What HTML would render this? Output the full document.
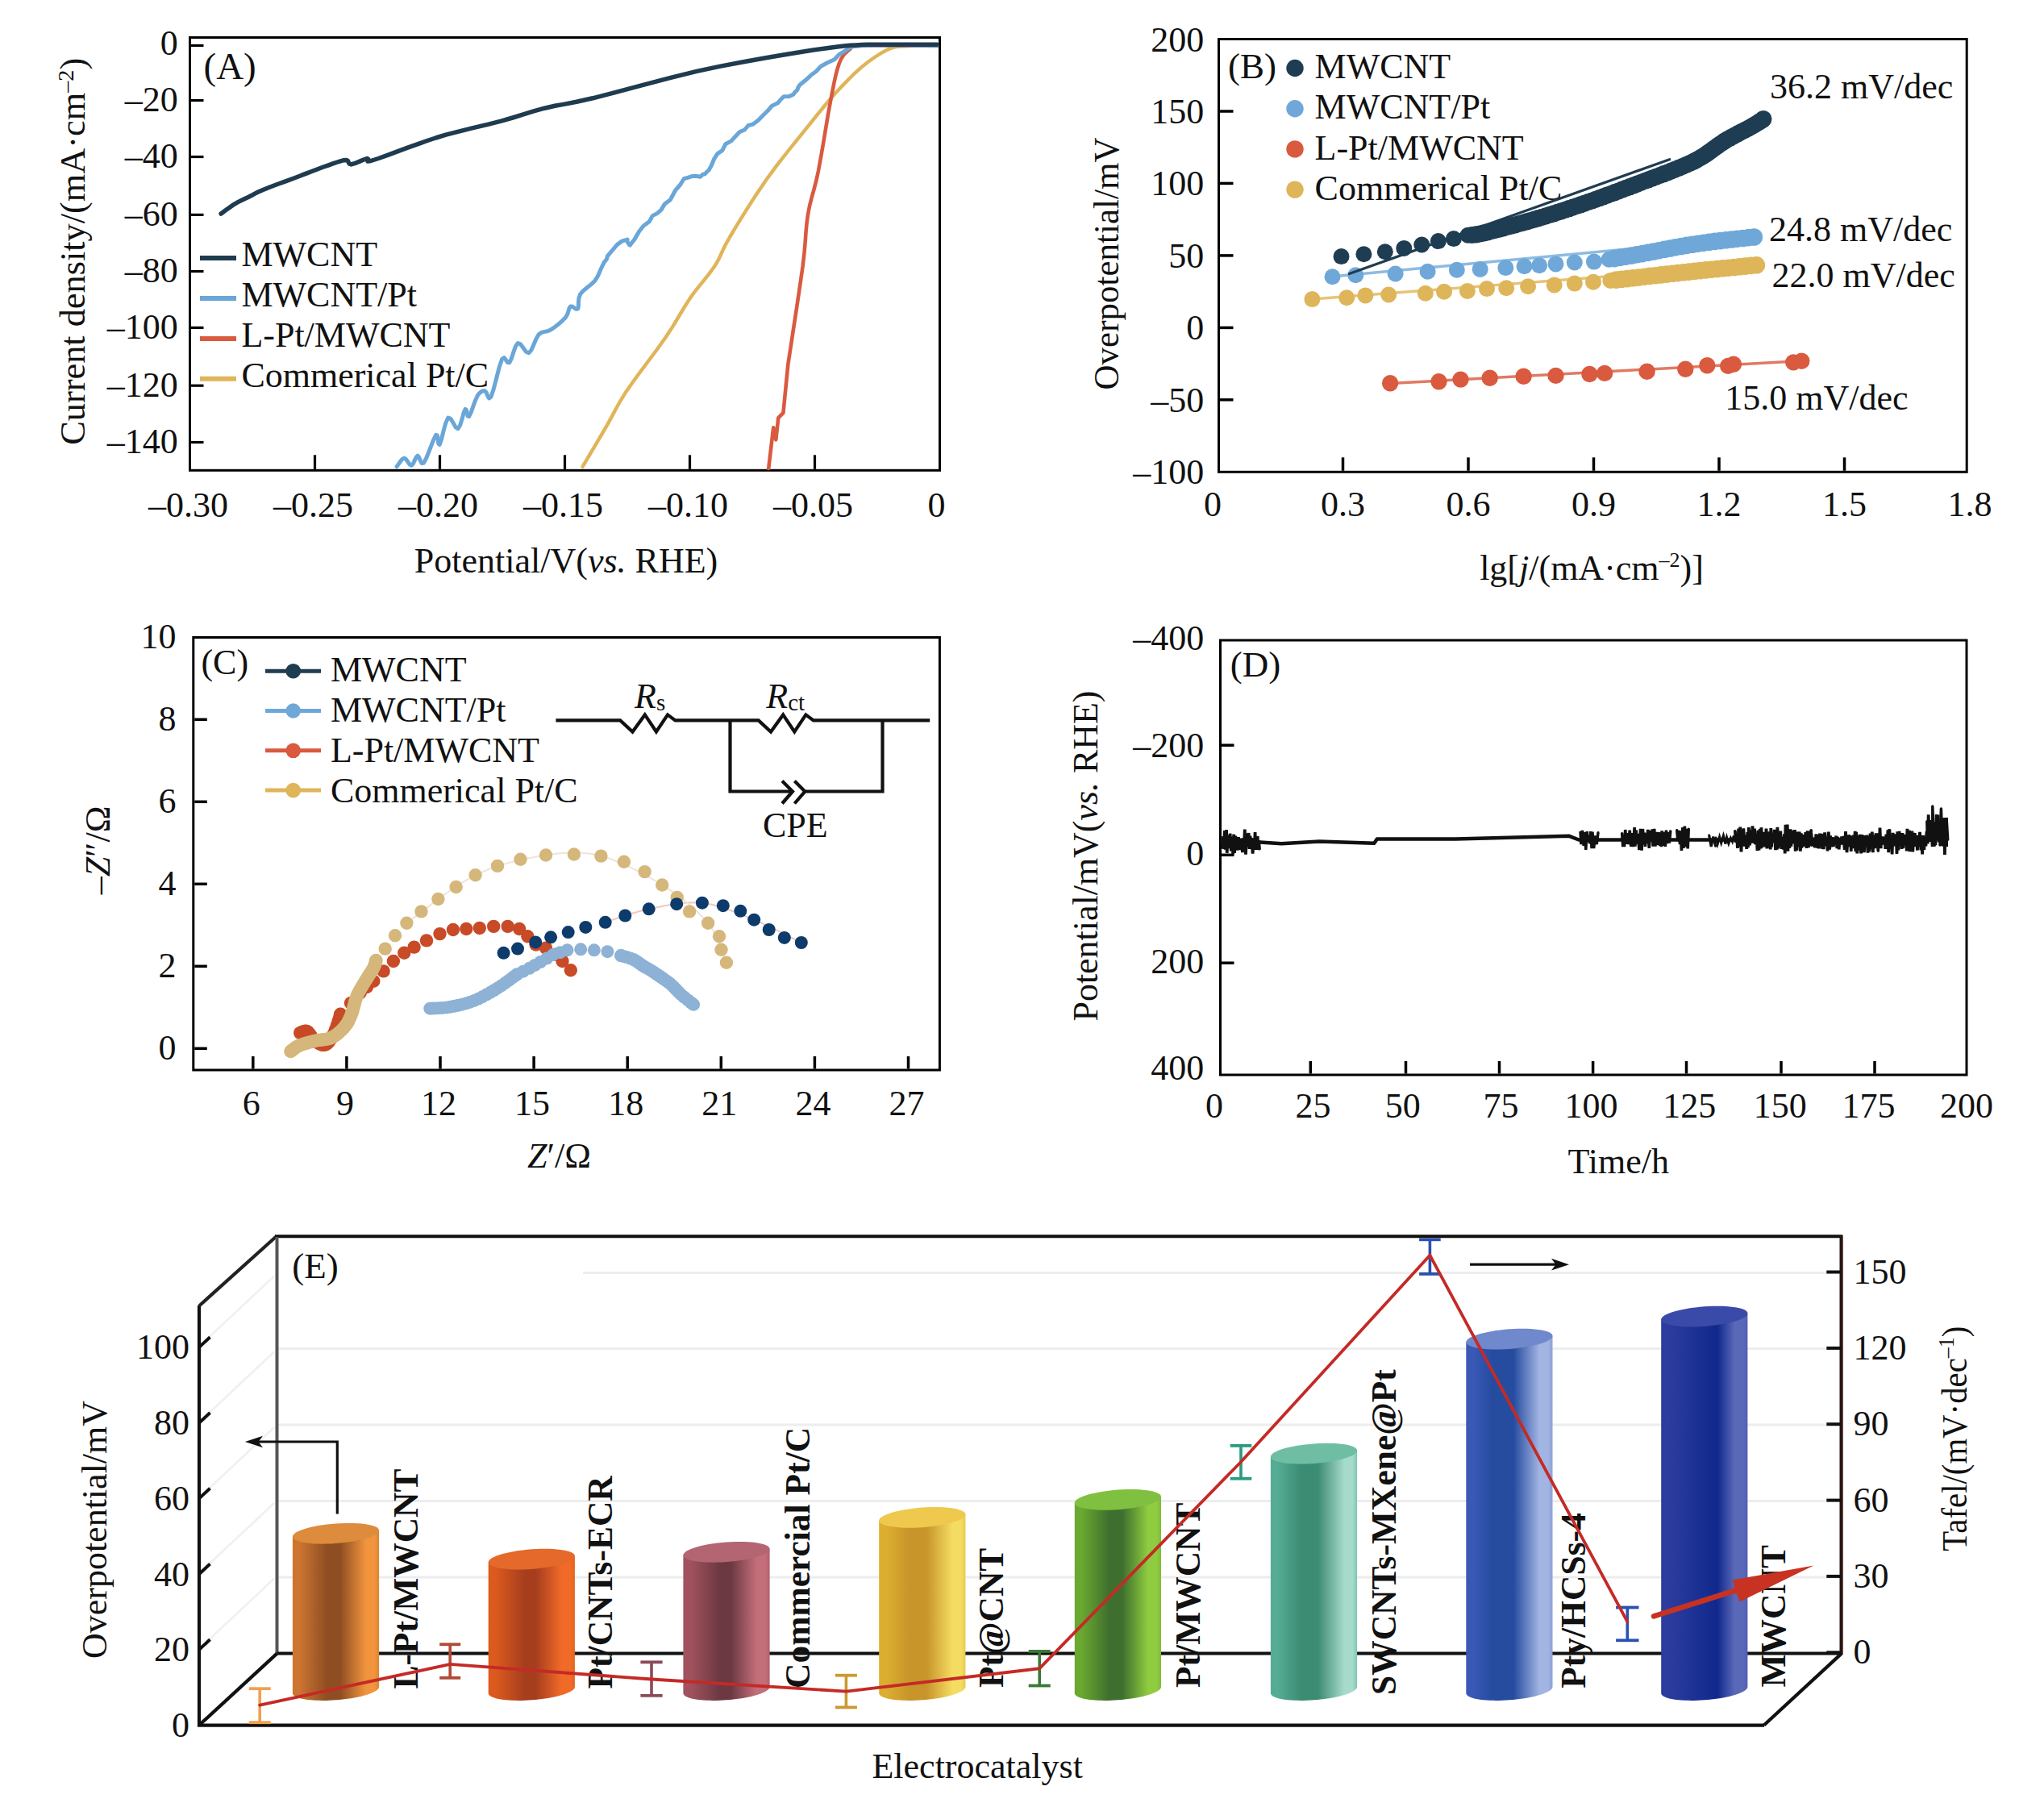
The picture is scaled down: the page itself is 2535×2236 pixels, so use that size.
<!DOCTYPE html>
<html><head><meta charset="utf-8"><style>
html,body{margin:0;padding:0;background:#fff;}
svg{display:block;}
text{font-family:"Liberation Serif", serif;fill:#111;}
</style></head><body>
<svg width="2535" height="2236" viewBox="0 0 2535 2236">
<rect width="2535" height="2236" fill="#fff"/>
<rect x="235.5" y="46.5" width="930.0" height="536.8" fill="none" stroke="#000" stroke-width="3" />
<line x1="237.0" y1="56.5" x2="252.5" y2="56.5" stroke="#000" stroke-width="3.2" />
<text x="220.7" y="67.8" font-size="44" text-anchor="end" >0</text>
<line x1="237.0" y1="124.5" x2="252.5" y2="124.5" stroke="#000" stroke-width="3.2" />
<text x="220.7" y="138.2" font-size="44" text-anchor="end" >–20</text>
<line x1="237.0" y1="194.5" x2="252.5" y2="194.5" stroke="#000" stroke-width="3.2" />
<text x="220.7" y="208.2" font-size="44" text-anchor="end" >–40</text>
<line x1="237.0" y1="266.4" x2="252.5" y2="266.4" stroke="#000" stroke-width="3.2" />
<text x="220.7" y="280.1" font-size="44" text-anchor="end" >–60</text>
<line x1="237.0" y1="336.5" x2="252.5" y2="336.5" stroke="#000" stroke-width="3.2" />
<text x="220.7" y="350.2" font-size="44" text-anchor="end" >–80</text>
<line x1="237.0" y1="406.4" x2="252.5" y2="406.4" stroke="#000" stroke-width="3.2" />
<text x="220.7" y="420.1" font-size="44" text-anchor="end" >–100</text>
<line x1="237.0" y1="478.2" x2="252.5" y2="478.2" stroke="#000" stroke-width="3.2" />
<text x="220.7" y="491.9" font-size="44" text-anchor="end" >–120</text>
<line x1="237.0" y1="548.5" x2="252.5" y2="548.5" stroke="#000" stroke-width="3.2" />
<text x="220.7" y="562.2" font-size="44" text-anchor="end" >–140</text>
<line x1="390.5" y1="581.8" x2="390.5" y2="564.3" stroke="#000" stroke-width="3.2" />
<line x1="545.5" y1="581.8" x2="545.5" y2="564.3" stroke="#000" stroke-width="3.2" />
<line x1="700.5" y1="581.8" x2="700.5" y2="564.3" stroke="#000" stroke-width="3.2" />
<line x1="855.5" y1="581.8" x2="855.5" y2="564.3" stroke="#000" stroke-width="3.2" />
<line x1="1010.5" y1="581.8" x2="1010.5" y2="564.3" stroke="#000" stroke-width="3.2" />
<text x="233.5" y="641.3" font-size="44" text-anchor="middle" >–0.30</text>
<text x="388.5" y="641.3" font-size="44" text-anchor="middle" >–0.25</text>
<text x="543.5" y="641.3" font-size="44" text-anchor="middle" >–0.20</text>
<text x="698.5" y="641.3" font-size="44" text-anchor="middle" >–0.15</text>
<text x="853.5" y="641.3" font-size="44" text-anchor="middle" >–0.10</text>
<text x="1008.5" y="641.3" font-size="44" text-anchor="middle" >–0.05</text>
<text x="1161.5" y="641.3" font-size="44" text-anchor="middle" >0</text>
<text x="702.0" y="710.0" font-size="44" text-anchor="middle" >Potential/V(<tspan font-style="italic">vs.</tspan> RHE)</text>
<text transform="translate(105.0,311.8) rotate(-90)" x="0" y="0" font-size="44" text-anchor="middle" textLength="480" lengthAdjust="spacingAndGlyphs">Current density/(mA·cm<tspan font-size="28" dy="-14">–2</tspan><tspan dy="14">)</tspan></text>
<text x="252.5" y="98.0" font-size="47" >(A)</text>
<line x1="248.0" y1="320.1" x2="293.0" y2="320.1" stroke="#1f3b4f" stroke-width="6" />
<text x="299.4" y="329.9" font-size="44" >MWCNT</text>
<line x1="248.0" y1="370.0" x2="293.0" y2="370.0" stroke="#6aa6d8" stroke-width="6" />
<text x="299.4" y="379.8" font-size="44" >MWCNT/Pt</text>
<line x1="248.0" y1="419.9" x2="293.0" y2="419.9" stroke="#d95a3f" stroke-width="6" />
<text x="299.4" y="429.7" font-size="44" >L-Pt/MWCNT</text>
<line x1="248.0" y1="469.8" x2="293.0" y2="469.8" stroke="#e0b458" stroke-width="6" />
<text x="299.4" y="479.6" font-size="44" >Commerical Pt/C</text>
<polyline points="722.6,578.7 728.2,569.2 736.3,555.6 745.1,540.6 753.0,527.1 758.9,516.4 764.0,506.8 769.6,496.8 777.2,484.7 788.1,469.3 801.1,451.7 814.4,434.0 825.8,418.0 834.7,404.4 842.1,392.0 849.0,380.5 856.1,369.4 863.9,358.8 872.0,348.9 879.6,339.4 886.4,330.0 891.3,321.6 894.8,314.0 898.8,305.4 905.1,294.0 914.3,278.7 925.5,260.6 937.8,241.4 950.3,223.0 963.6,204.9 978.0,186.5 992.0,169.2 1004.1,154.1 1013.7,142.2 1021.6,132.5 1028.8,123.9 1036.4,115.4 1044.5,106.6 1052.6,98.2 1060.6,90.3 1068.7,83.1 1077.0,76.5 1085.5,70.5 1093.7,65.4 1101.0,61.5 1106.7,59.1 1111.3,58.0 1116.1,57.6 1122.5,57.2 1132.0,56.9 1143.6,56.9 1154.5,57.1 1162.0,57.2" fill="none" stroke="#e0b458" stroke-width="4.4" stroke-linejoin="round" stroke-linecap="round" />
<polyline points="953.2,581.0 959.2,530.2 962.3,545.3 965.3,518.1 971.4,512.0 977.4,451.3 977.4,451.3 980.1,433.9 983.9,408.8 988.3,380.2 992.4,352.5 995.6,330.0 997.5,313.4 998.7,299.8 999.5,288.1 1000.5,277.2 1002.0,266.0 1004.1,255.1 1006.6,245.3 1009.3,235.6 1012.1,224.9 1014.9,212.2 1017.8,196.4 1021.0,178.2 1024.1,159.3 1027.1,141.4 1029.9,126.1 1032.3,113.7 1034.4,102.9 1036.4,93.7 1038.5,85.7 1040.7,78.8 1043.1,73.2 1045.6,69.1 1048.2,66.1 1050.8,63.7 1053.6,61.5 1055.2,59.7 1055.7,58.5 1056.9,57.7 1060.6,57.2 1068.7,56.8 1083.8,56.5 1104.9,56.5 1127.6,56.6 1148.1,56.7 1162.0,56.8" fill="none" stroke="#d95a3f" stroke-width="4.6" stroke-linejoin="round" stroke-linecap="round" />
<polyline points="492.1,578.7 493.7,576.3 496.1,572.8 498.7,569.6 501.2,568.1 503.5,569.5 505.8,572.7 508.1,576.0 510.3,577.2 512.3,575.2 514.2,571.1 516.0,567.1 517.9,565.1 519.6,566.9 521.2,571.1 523.1,574.5 525.5,574.2 529.0,567.5 533.3,556.6 537.5,545.8 540.7,539.3 542.4,540.1 543.2,545.2 543.9,550.5 545.2,551.4 547.4,545.2 550.0,534.7 552.9,524.2 555.8,518.1 558.8,519.1 562.0,524.3 565.1,529.9 568.0,531.7 570.6,527.5 573.0,519.8 575.1,512.0 577.0,507.4 578.3,508.1 579.2,512.0 580.1,515.9 581.6,516.5 583.9,512.1 586.6,504.6 589.5,496.7 592.2,490.8 594.6,487.6 596.9,485.7 599.2,484.8 601.3,484.7 603.2,486.9 604.8,491.1 606.6,493.9 608.9,492.3 612.0,483.2 615.7,469.0 619.4,454.7 622.6,445.3 625.2,443.5 627.3,446.1 629.4,449.5 631.7,449.8 634.2,444.9 636.7,437.2 639.4,429.7 642.3,425.5 645.5,426.8 649.0,431.5 652.5,436.3 655.9,437.7 659.0,434.1 661.9,427.4 664.9,420.2 668.1,414.9 671.6,412.4 675.3,411.4 679.1,410.7 683.2,408.9 687.8,405.7 692.9,401.8 697.6,397.6 701.4,393.7 703.7,389.8 705.0,385.7 706.0,382.2 707.5,380.0 709.7,380.1 712.2,381.8 714.7,383.4 716.6,383.1 717.4,380.0 717.5,375.2 717.9,369.8 719.6,364.9 723.3,360.7 728.3,356.5 733.5,352.4 737.8,348.2 740.7,343.7 742.9,339.1 744.8,334.5 746.8,330.3 749.0,325.8 752.3,321.5 753.4,317.6 756.5,313.8 761.0,308.6 765.4,303.4 771.7,298.9 776.3,297.7 778.1,297.0 777.8,299.2 780.0,303.0 781.2,304.1 786.7,297.3 792.8,286.7 798.2,280.0 805.3,274.8 809.2,267.6 815.0,264.6 819.9,260.4 824.4,252.9 831.3,247.7 837.5,236.2 843.4,229.5 848.2,221.7 854.5,219.8 858.2,218.6 864.4,218.5 868.3,219.3 871.7,216.3 874.2,215.8 876.4,213.3 879.2,210.9 882.5,204.8 885.8,196.8 889.8,190.6 895.8,186.7 899.7,178.8 906.8,174.9 912.0,169.3 917.4,163.5 923.5,161.0 928.1,155.5 934.0,154.1 940.3,149.3 945.4,144.1 952.5,137.0 957.5,131.2 964.6,127.8 968.6,123.0 972.2,119.7 978.5,119.6 983.8,117.3 985.5,114.8 989.0,111.3 989.8,108.5 992.0,105.2 998.7,99.8 1006.0,93.1 1012.2,88.5 1018.0,82.3 1026.2,77.8 1034.9,73.8 1040.6,67.6 1047.2,63.7 1051.3,60.9 1053.9,58.9 1058.4,57.5 1068.7,56.5 1089.2,56.0 1116.7,56.0 1143.6,56.3 1162.0,56.5" fill="none" stroke="#6aa6d8" stroke-width="5" stroke-linejoin="round" stroke-linecap="round" />
<polyline points="274.1,265.0 277.2,262.7 281.6,259.4 286.6,255.9 291.3,252.8 295.6,250.4 299.9,248.3 304.1,246.3 308.4,244.3 312.2,242.3 315.6,240.4 319.7,238.3 325.5,235.7 334.1,232.3 344.7,228.3 355.5,224.4 364.6,221.0 371.2,218.5 376.4,216.4 381.2,214.6 386.7,212.5 393.3,210.0 400.5,207.3 407.5,204.8 413.6,202.7 418.6,201.0 422.9,199.6 426.5,198.7 429.5,198.5 431.4,199.5 432.3,201.4 433.4,203.2 435.6,203.9 439.9,202.7 445.5,200.4 451.0,198.0 455.2,196.6 456.4,197.1 455.8,198.7 456.0,200.0 460.0,199.5 469.3,196.5 482.1,191.8 496.1,186.6 509.0,181.9 519.8,178.1 529.8,174.5 540.4,171.0 553.0,167.2 568.7,163.1 586.6,158.7 604.8,154.3 621.5,150.1 635.8,146.0 649.0,141.9 661.8,137.9 675.3,134.2 688.2,131.3 700.4,129.1 715.0,126.3 735.0,121.8 762.9,114.6 796.6,105.6 831.8,96.3 864.2,88.4 893.6,82.1 922.0,76.7 948.4,72.0 971.8,68.0 991.7,64.7 1008.8,62.0 1023.5,60.0 1036.4,58.3 1046.8,57.1 1054.6,56.3 1061.5,55.9 1068.7,55.5 1075.9,55.2 1082.5,55.2 1090.0,55.2 1100.0,55.2 1114.8,55.2 1133.0,55.2 1150.1,55.2 1162.0,55.2" fill="none" stroke="#1f3b4f" stroke-width="5.5" stroke-linejoin="round" stroke-linecap="round" />
<rect x="1511.5" y="48.5" width="927.7" height="536.8" fill="none" stroke="#000" stroke-width="3" />
<text x="1493.3" y="63.5" font-size="44" text-anchor="end" >200</text>
<line x1="1513.0" y1="138.0" x2="1529.5" y2="138.0" stroke="#000" stroke-width="3.5" />
<text x="1493.3" y="153.0" font-size="44" text-anchor="end" >150</text>
<line x1="1513.0" y1="227.4" x2="1529.5" y2="227.4" stroke="#000" stroke-width="3.5" />
<text x="1493.3" y="242.4" font-size="44" text-anchor="end" >100</text>
<line x1="1513.0" y1="316.9" x2="1529.5" y2="316.9" stroke="#000" stroke-width="3.5" />
<text x="1493.3" y="331.9" font-size="44" text-anchor="end" >50</text>
<line x1="1513.0" y1="406.4" x2="1529.5" y2="406.4" stroke="#000" stroke-width="3.5" />
<text x="1493.3" y="421.4" font-size="44" text-anchor="end" >0</text>
<line x1="1513.0" y1="495.8" x2="1529.5" y2="495.8" stroke="#000" stroke-width="3.5" />
<text x="1493.3" y="510.8" font-size="44" text-anchor="end" >–50</text>
<text x="1493.3" y="600.3" font-size="44" text-anchor="end" >–100</text>
<text x="1504.0" y="639.5" font-size="44" text-anchor="middle" >0</text>
<line x1="1665.5" y1="583.8" x2="1665.5" y2="567.3" stroke="#000" stroke-width="3.5" />
<text x="1665.5" y="639.5" font-size="44" text-anchor="middle" >0.3</text>
<line x1="1821.0" y1="583.8" x2="1821.0" y2="567.3" stroke="#000" stroke-width="3.5" />
<text x="1821.0" y="639.5" font-size="44" text-anchor="middle" >0.6</text>
<line x1="1976.5" y1="583.8" x2="1976.5" y2="567.3" stroke="#000" stroke-width="3.5" />
<text x="1976.5" y="639.5" font-size="44" text-anchor="middle" >0.9</text>
<line x1="2132.0" y1="583.8" x2="2132.0" y2="567.3" stroke="#000" stroke-width="3.5" />
<text x="2132.0" y="639.5" font-size="44" text-anchor="middle" >1.2</text>
<line x1="2287.5" y1="583.8" x2="2287.5" y2="567.3" stroke="#000" stroke-width="3.5" />
<text x="2287.5" y="639.5" font-size="44" text-anchor="middle" >1.5</text>
<text x="2443.0" y="639.5" font-size="44" text-anchor="middle" >1.8</text>
<text x="1974.0" y="719.0" font-size="44" text-anchor="middle" >lg[<tspan font-style="italic">j</tspan>/(mA·cm<tspan font-size="26" dy="-16">–2</tspan><tspan dy="16">)]</tspan></text>
<text transform="translate(1386.5,327.0) rotate(-90)" x="0" y="0" font-size="44" text-anchor="middle" textLength="313" lengthAdjust="spacingAndGlyphs">Overpotential/mV</text>
<text x="1523.0" y="97.1" font-size="45" >(B)</text>
<circle cx="1606.0" cy="84.5" r="10.7" fill="#1f3d52" />
<text x="1630.6" y="97.1" font-size="44" >MWCNT</text>
<circle cx="1606.0" cy="134.7" r="10.7" fill="#6fa8d8" />
<text x="1630.6" y="147.3" font-size="44" >MWCNT/Pt</text>
<circle cx="1606.0" cy="184.9" r="10.7" fill="#d95a3f" />
<text x="1630.6" y="197.5" font-size="44" >L-Pt/MWCNT</text>
<circle cx="1606.0" cy="235.1" r="10.7" fill="#dfb55a" />
<text x="1630.6" y="247.7" font-size="44" >Commerical Pt/C</text>
<line x1="1724.0" y1="475.5" x2="2236.0" y2="447.5" stroke="#e07a62" stroke-width="3.5" />
<line x1="1627.0" y1="371.0" x2="2180.0" y2="328.5" stroke="#e6c47a" stroke-width="3.5" />
<line x1="1652.0" y1="343.0" x2="2178.0" y2="294.0" stroke="#8dbbe2" stroke-width="3.5" />
<circle cx="1627.4" cy="371.1" r="10.0" fill="#dfb55a" />
<circle cx="1670.2" cy="369.2" r="10.0" fill="#dfb55a" />
<circle cx="1693.4" cy="366.4" r="10.0" fill="#dfb55a" />
<circle cx="1722.2" cy="365.5" r="10.0" fill="#dfb55a" />
<circle cx="1767.8" cy="363.7" r="10.0" fill="#dfb55a" />
<circle cx="1791.0" cy="361.8" r="10.0" fill="#dfb55a" />
<circle cx="1819.9" cy="360.9" r="10.0" fill="#dfb55a" />
<circle cx="1844.0" cy="358.1" r="10.0" fill="#dfb55a" />
<circle cx="1868.2" cy="357.2" r="10.0" fill="#dfb55a" />
<circle cx="1895.1" cy="355.3" r="10.0" fill="#dfb55a" />
<circle cx="1927.7" cy="353.4" r="10.0" fill="#dfb55a" />
<circle cx="1952.8" cy="351.6" r="10.0" fill="#dfb55a" />
<circle cx="1976.0" cy="349.7" r="10.0" fill="#dfb55a" />
<circle cx="1997.4" cy="347.9" r="10.0" fill="#dfb55a" />
<circle cx="2004.4" cy="347.1" r="10.8" fill="#dfb55a" /><circle cx="2011.3" cy="346.3" r="10.8" fill="#dfb55a" /><circle cx="2018.3" cy="345.6" r="10.8" fill="#dfb55a" /><circle cx="2025.2" cy="344.8" r="10.8" fill="#dfb55a" /><circle cx="2032.2" cy="344.0" r="10.8" fill="#dfb55a" /><circle cx="2039.1" cy="343.2" r="10.8" fill="#dfb55a" /><circle cx="2046.1" cy="342.4" r="10.8" fill="#dfb55a" /><circle cx="2053.1" cy="341.7" r="10.8" fill="#dfb55a" /><circle cx="2060.0" cy="340.9" r="10.8" fill="#dfb55a" /><circle cx="2067.0" cy="340.1" r="10.8" fill="#dfb55a" /><circle cx="2073.9" cy="339.3" r="10.8" fill="#dfb55a" /><circle cx="2080.9" cy="338.6" r="10.8" fill="#dfb55a" /><circle cx="2087.8" cy="337.8" r="10.8" fill="#dfb55a" /><circle cx="2094.8" cy="337.1" r="10.8" fill="#dfb55a" /><circle cx="2101.8" cy="336.3" r="10.8" fill="#dfb55a" /><circle cx="2108.7" cy="335.6" r="10.8" fill="#dfb55a" /><circle cx="2115.7" cy="334.9" r="10.8" fill="#dfb55a" /><circle cx="2122.7" cy="334.2" r="10.8" fill="#dfb55a" /><circle cx="2129.6" cy="333.5" r="10.8" fill="#dfb55a" /><circle cx="2136.6" cy="332.8" r="10.8" fill="#dfb55a" /><circle cx="2143.6" cy="332.2" r="10.8" fill="#dfb55a" /><circle cx="2150.5" cy="331.5" r="10.8" fill="#dfb55a" /><circle cx="2157.5" cy="330.8" r="10.8" fill="#dfb55a" /><circle cx="2164.5" cy="330.1" r="10.8" fill="#dfb55a" /><circle cx="2171.4" cy="329.4" r="10.8" fill="#dfb55a" /><circle cx="2178.4" cy="328.8" r="10.8" fill="#dfb55a" />
<circle cx="1652.5" cy="343.2" r="10.0" fill="#6fa8d8" />
<circle cx="1681.3" cy="341.3" r="10.0" fill="#6fa8d8" />
<circle cx="1730.6" cy="339.5" r="10.0" fill="#6fa8d8" />
<circle cx="1770.6" cy="336.7" r="10.0" fill="#6fa8d8" />
<circle cx="1806.8" cy="334.8" r="10.0" fill="#6fa8d8" />
<circle cx="1835.7" cy="333.9" r="10.0" fill="#6fa8d8" />
<circle cx="1867.3" cy="332.1" r="10.0" fill="#6fa8d8" />
<circle cx="1890.5" cy="330.2" r="10.0" fill="#6fa8d8" />
<circle cx="1909.1" cy="329.3" r="10.0" fill="#6fa8d8" />
<circle cx="1929.5" cy="327.4" r="10.0" fill="#6fa8d8" />
<circle cx="1952.8" cy="325.5" r="10.0" fill="#6fa8d8" />
<circle cx="1976.9" cy="324.6" r="10.0" fill="#6fa8d8" />
<circle cx="1995.5" cy="321.8" r="10.0" fill="#6fa8d8" />
<circle cx="2002.4" cy="320.6" r="10.8" fill="#6fa8d8" /><circle cx="2009.3" cy="319.4" r="10.8" fill="#6fa8d8" /><circle cx="2016.2" cy="318.2" r="10.8" fill="#6fa8d8" /><circle cx="2023.1" cy="317.0" r="10.8" fill="#6fa8d8" /><circle cx="2030.0" cy="315.8" r="10.8" fill="#6fa8d8" /><circle cx="2036.9" cy="314.6" r="10.8" fill="#6fa8d8" /><circle cx="2043.8" cy="313.3" r="10.8" fill="#6fa8d8" /><circle cx="2050.6" cy="312.0" r="10.8" fill="#6fa8d8" /><circle cx="2057.5" cy="310.7" r="10.8" fill="#6fa8d8" /><circle cx="2064.4" cy="309.3" r="10.8" fill="#6fa8d8" /><circle cx="2071.3" cy="308.0" r="10.8" fill="#6fa8d8" /><circle cx="2078.1" cy="306.7" r="10.8" fill="#6fa8d8" /><circle cx="2085.0" cy="305.5" r="10.8" fill="#6fa8d8" /><circle cx="2091.9" cy="304.4" r="10.8" fill="#6fa8d8" /><circle cx="2098.8" cy="303.3" r="10.8" fill="#6fa8d8" /><circle cx="2105.8" cy="302.2" r="10.8" fill="#6fa8d8" /><circle cx="2112.7" cy="301.2" r="10.8" fill="#6fa8d8" /><circle cx="2119.6" cy="300.3" r="10.8" fill="#6fa8d8" /><circle cx="2126.6" cy="299.4" r="10.8" fill="#6fa8d8" /><circle cx="2133.5" cy="298.6" r="10.8" fill="#6fa8d8" /><circle cx="2140.5" cy="297.8" r="10.8" fill="#6fa8d8" /><circle cx="2147.4" cy="297.0" r="10.8" fill="#6fa8d8" /><circle cx="2154.4" cy="296.2" r="10.8" fill="#6fa8d8" /><circle cx="2161.4" cy="295.5" r="10.8" fill="#6fa8d8" /><circle cx="2168.3" cy="294.7" r="10.8" fill="#6fa8d8" /><circle cx="2175.3" cy="294.0" r="10.8" fill="#6fa8d8" />
<circle cx="1724.1" cy="475.2" r="10.2" fill="#d95a3f" />
<circle cx="1784.5" cy="473.3" r="10.2" fill="#d95a3f" />
<circle cx="1811.5" cy="470.6" r="10.2" fill="#d95a3f" />
<circle cx="1847.7" cy="468.7" r="10.2" fill="#d95a3f" />
<circle cx="1889.6" cy="466.8" r="10.2" fill="#d95a3f" />
<circle cx="1929.5" cy="465.9" r="10.2" fill="#d95a3f" />
<circle cx="1971.4" cy="464.0" r="10.2" fill="#d95a3f" />
<circle cx="1990.1" cy="462.9" r="10.2" fill="#d95a3f" />
<circle cx="2042.6" cy="460.7" r="10.2" fill="#d95a3f" />
<circle cx="2090.3" cy="457.7" r="10.2" fill="#d95a3f" />
<circle cx="2117.3" cy="453.2" r="10.2" fill="#d95a3f" />
<circle cx="2143.2" cy="453.9" r="10.2" fill="#d95a3f" />
<circle cx="2149.9" cy="451.7" r="10.2" fill="#d95a3f" />
<circle cx="2224.2" cy="449.4" r="10.2" fill="#d95a3f" />
<circle cx="2234.3" cy="447.8" r="10.2" fill="#d95a3f" />
<line x1="1672.0" y1="340.0" x2="2072.0" y2="197.2" stroke="#1f3d52" stroke-width="3.2" />
<circle cx="1663.5" cy="318.1" r="10.0" fill="#1f3d52" />
<circle cx="1691.4" cy="315.2" r="10.0" fill="#1f3d52" />
<circle cx="1717.8" cy="312.3" r="10.0" fill="#1f3d52" />
<circle cx="1741.3" cy="307.9" r="10.0" fill="#1f3d52" />
<circle cx="1763.3" cy="303.5" r="10.0" fill="#1f3d52" />
<circle cx="1783.8" cy="299.1" r="10.0" fill="#1f3d52" />
<circle cx="1802.9" cy="296.1" r="10.0" fill="#1f3d52" />
<circle cx="1820.5" cy="291.7" r="10.0" fill="#1f3d52" />
<circle cx="1825.5" cy="291.5" r="10.6" fill="#1f3d52" /><circle cx="1830.5" cy="290.9" r="10.6" fill="#1f3d52" /><circle cx="1835.4" cy="290.0" r="10.6" fill="#1f3d52" /><circle cx="1840.3" cy="288.9" r="10.6" fill="#1f3d52" /><circle cx="1845.1" cy="287.8" r="10.6" fill="#1f3d52" /><circle cx="1850.0" cy="286.6" r="10.6" fill="#1f3d52" /><circle cx="1854.8" cy="285.3" r="10.6" fill="#1f3d52" /><circle cx="1859.7" cy="284.1" r="10.6" fill="#1f3d52" /><circle cx="1864.5" cy="282.8" r="10.6" fill="#1f3d52" /><circle cx="1869.3" cy="281.5" r="10.6" fill="#1f3d52" /><circle cx="1874.2" cy="280.2" r="10.6" fill="#1f3d52" /><circle cx="1879.0" cy="278.9" r="10.6" fill="#1f3d52" /><circle cx="1883.8" cy="277.6" r="10.6" fill="#1f3d52" /><circle cx="1888.6" cy="276.3" r="10.6" fill="#1f3d52" /><circle cx="1893.4" cy="274.9" r="10.6" fill="#1f3d52" /><circle cx="1898.3" cy="273.6" r="10.6" fill="#1f3d52" /><circle cx="1903.1" cy="272.2" r="10.6" fill="#1f3d52" /><circle cx="1907.8" cy="270.7" r="10.6" fill="#1f3d52" /><circle cx="1912.6" cy="269.3" r="10.6" fill="#1f3d52" /><circle cx="1917.4" cy="267.8" r="10.6" fill="#1f3d52" /><circle cx="1922.2" cy="266.4" r="10.6" fill="#1f3d52" /><circle cx="1927.0" cy="264.9" r="10.6" fill="#1f3d52" /><circle cx="1931.7" cy="263.3" r="10.6" fill="#1f3d52" /><circle cx="1936.5" cy="261.8" r="10.6" fill="#1f3d52" /><circle cx="1941.2" cy="260.3" r="10.6" fill="#1f3d52" /><circle cx="1946.0" cy="258.7" r="10.6" fill="#1f3d52" /><circle cx="1950.7" cy="257.1" r="10.6" fill="#1f3d52" /><circle cx="1955.5" cy="255.5" r="10.6" fill="#1f3d52" /><circle cx="1960.2" cy="253.9" r="10.6" fill="#1f3d52" /><circle cx="1964.9" cy="252.3" r="10.6" fill="#1f3d52" /><circle cx="1969.7" cy="250.6" r="10.6" fill="#1f3d52" /><circle cx="1974.4" cy="249.0" r="10.6" fill="#1f3d52" /><circle cx="1979.1" cy="247.3" r="10.6" fill="#1f3d52" /><circle cx="1983.8" cy="245.6" r="10.6" fill="#1f3d52" /><circle cx="1988.5" cy="243.9" r="10.6" fill="#1f3d52" /><circle cx="1993.2" cy="242.2" r="10.6" fill="#1f3d52" /><circle cx="1997.9" cy="240.5" r="10.6" fill="#1f3d52" /><circle cx="2002.6" cy="238.7" r="10.6" fill="#1f3d52" /><circle cx="2007.2" cy="237.0" r="10.6" fill="#1f3d52" /><circle cx="2011.9" cy="235.2" r="10.6" fill="#1f3d52" /><circle cx="2016.6" cy="233.4" r="10.6" fill="#1f3d52" /><circle cx="2021.3" cy="231.7" r="10.6" fill="#1f3d52" /><circle cx="2025.9" cy="229.9" r="10.6" fill="#1f3d52" /><circle cx="2030.6" cy="228.1" r="10.6" fill="#1f3d52" /><circle cx="2035.3" cy="226.3" r="10.6" fill="#1f3d52" /><circle cx="2040.0" cy="224.5" r="10.6" fill="#1f3d52" /><circle cx="2044.6" cy="222.8" r="10.6" fill="#1f3d52" /><circle cx="2049.3" cy="221.0" r="10.6" fill="#1f3d52" /><circle cx="2054.0" cy="219.3" r="10.6" fill="#1f3d52" /><circle cx="2058.7" cy="217.5" r="10.6" fill="#1f3d52" /><circle cx="2063.4" cy="215.7" r="10.6" fill="#1f3d52" /><circle cx="2068.0" cy="214.0" r="10.6" fill="#1f3d52" /><circle cx="2072.7" cy="212.1" r="10.6" fill="#1f3d52" /><circle cx="2077.3" cy="210.3" r="10.6" fill="#1f3d52" /><circle cx="2082.0" cy="208.4" r="10.6" fill="#1f3d52" /><circle cx="2086.6" cy="206.5" r="10.6" fill="#1f3d52" /><circle cx="2091.2" cy="204.5" r="10.6" fill="#1f3d52" /><circle cx="2095.8" cy="202.5" r="10.6" fill="#1f3d52" /><circle cx="2100.3" cy="200.4" r="10.6" fill="#1f3d52" /><circle cx="2104.7" cy="198.1" r="10.6" fill="#1f3d52" /><circle cx="2109.1" cy="195.6" r="10.6" fill="#1f3d52" /><circle cx="2113.3" cy="193.0" r="10.6" fill="#1f3d52" /><circle cx="2117.5" cy="190.2" r="10.6" fill="#1f3d52" /><circle cx="2121.6" cy="187.3" r="10.6" fill="#1f3d52" /><circle cx="2125.6" cy="184.3" r="10.6" fill="#1f3d52" /><circle cx="2129.6" cy="181.4" r="10.6" fill="#1f3d52" /><circle cx="2133.7" cy="178.5" r="10.6" fill="#1f3d52" /><circle cx="2137.9" cy="175.7" r="10.6" fill="#1f3d52" /><circle cx="2142.1" cy="173.1" r="10.6" fill="#1f3d52" /><circle cx="2146.5" cy="170.7" r="10.6" fill="#1f3d52" /><circle cx="2150.9" cy="168.3" r="10.6" fill="#1f3d52" /><circle cx="2155.3" cy="165.9" r="10.6" fill="#1f3d52" /><circle cx="2159.7" cy="163.6" r="10.6" fill="#1f3d52" /><circle cx="2164.2" cy="161.3" r="10.6" fill="#1f3d52" /><circle cx="2168.6" cy="159.0" r="10.6" fill="#1f3d52" /><circle cx="2173.0" cy="156.6" r="10.6" fill="#1f3d52" /><circle cx="2177.3" cy="154.0" r="10.6" fill="#1f3d52" /><circle cx="2181.5" cy="151.4" r="10.6" fill="#1f3d52" /><circle cx="2185.7" cy="148.7" r="10.6" fill="#1f3d52" />
<circle cx="2187.0" cy="147.5" r="10.5" fill="#1f3d52" />
<text x="2195.0" y="121.6" font-size="44" >36.2 mV/dec</text>
<text x="2194.1" y="299.4" font-size="44" >24.8 mV/dec</text>
<text x="2197.5" y="356.0" font-size="44" >22.0 mV/dec</text>
<text x="2139.3" y="507.9" font-size="44" >15.0 mV/dec</text>
<rect x="239.8" y="790.5" width="925.6" height="536.5" fill="none" stroke="#000" stroke-width="3" />
<line x1="241.3" y1="1300.3" x2="256.8" y2="1300.3" stroke="#000" stroke-width="3.5" />
<text x="218.5" y="1313.7" font-size="44" text-anchor="end" >0</text>
<line x1="241.3" y1="1198.3" x2="256.8" y2="1198.3" stroke="#000" stroke-width="3.5" />
<text x="218.5" y="1211.7" font-size="44" text-anchor="end" >2</text>
<line x1="241.3" y1="1096.3" x2="256.8" y2="1096.3" stroke="#000" stroke-width="3.5" />
<text x="218.5" y="1109.7" font-size="44" text-anchor="end" >4</text>
<line x1="241.3" y1="994.3" x2="256.8" y2="994.3" stroke="#000" stroke-width="3.5" />
<text x="218.5" y="1007.7" font-size="44" text-anchor="end" >6</text>
<line x1="241.3" y1="892.3" x2="256.8" y2="892.3" stroke="#000" stroke-width="3.5" />
<text x="218.5" y="905.7" font-size="44" text-anchor="end" >8</text>
<text x="218.5" y="803.7" font-size="44" text-anchor="end" >10</text>
<line x1="313.8" y1="1325.5" x2="313.8" y2="1310.0" stroke="#000" stroke-width="3.5" />
<text x="311.8" y="1382.7" font-size="44" text-anchor="middle" >6</text>
<line x1="429.9" y1="1325.5" x2="429.9" y2="1310.0" stroke="#000" stroke-width="3.5" />
<text x="427.9" y="1382.7" font-size="44" text-anchor="middle" >9</text>
<line x1="546.0" y1="1325.5" x2="546.0" y2="1310.0" stroke="#000" stroke-width="3.5" />
<text x="544.0" y="1382.7" font-size="44" text-anchor="middle" >12</text>
<line x1="662.1" y1="1325.5" x2="662.1" y2="1310.0" stroke="#000" stroke-width="3.5" />
<text x="660.1" y="1382.7" font-size="44" text-anchor="middle" >15</text>
<line x1="778.2" y1="1325.5" x2="778.2" y2="1310.0" stroke="#000" stroke-width="3.5" />
<text x="776.2" y="1382.7" font-size="44" text-anchor="middle" >18</text>
<line x1="894.3" y1="1325.5" x2="894.3" y2="1310.0" stroke="#000" stroke-width="3.5" />
<text x="892.3" y="1382.7" font-size="44" text-anchor="middle" >21</text>
<line x1="1010.4" y1="1325.5" x2="1010.4" y2="1310.0" stroke="#000" stroke-width="3.5" />
<text x="1008.4" y="1382.7" font-size="44" text-anchor="middle" >24</text>
<line x1="1126.5" y1="1325.5" x2="1126.5" y2="1310.0" stroke="#000" stroke-width="3.5" />
<text x="1124.5" y="1382.7" font-size="44" text-anchor="middle" >27</text>
<text x="693.5" y="1447.8" font-size="44" text-anchor="middle" ><tspan font-style="italic">Z</tspan>′/Ω</text>
<text transform="translate(135.7,1054.5) rotate(-90)" x="0" y="0" font-size="44" text-anchor="middle" >–<tspan font-style="italic">Z</tspan>″/Ω</text>
<text x="249.4" y="835.5" font-size="44" >(C)</text>
<line x1="329.0" y1="832.2" x2="398.0" y2="832.2" stroke="#1f3d52" stroke-width="5" />
<circle cx="363.7" cy="832.2" r="9.3" fill="#1f3d52" />
<text x="409.9" y="844.8" font-size="44" >MWCNT</text>
<line x1="329.0" y1="881.5" x2="398.0" y2="881.5" stroke="#6fa8d8" stroke-width="5" />
<circle cx="363.7" cy="881.5" r="9.3" fill="#6fa8d8" />
<text x="409.9" y="894.7" font-size="44" >MWCNT/Pt</text>
<line x1="329.0" y1="930.8" x2="398.0" y2="930.8" stroke="#d95a3f" stroke-width="5" />
<circle cx="363.7" cy="930.8" r="9.3" fill="#d95a3f" />
<text x="409.9" y="944.6" font-size="44" >L-Pt/MWCNT</text>
<line x1="329.0" y1="980.1" x2="398.0" y2="980.1" stroke="#dfb55a" stroke-width="5" />
<circle cx="363.7" cy="980.1" r="9.3" fill="#dfb55a" />
<text x="409.9" y="994.5" font-size="44" >Commerical Pt/C</text>
<polyline points="689.4,893.4 769.2,893.4 784.5,907.5 799.8,886.4 813.9,907.5 828.0,886.4 837.4,893.4 940.7,893.4 956.0,907.5 971.2,886.4 985.3,907.5 999.4,886.4 1008.8,893.4 1153.2,893.4" fill="none" stroke="#111" stroke-width="4.2" stroke-linecap="butt" stroke-linejoin="miter"/>
<polyline points="905.5,893.4 905.5,981.5 983.0,981.5" fill="none" stroke="#111" stroke-width="4.2" stroke-linecap="butt" stroke-linejoin="miter"/>
<polyline points="998.3,981.5 1094.5,981.5 1094.5,893.4" fill="none" stroke="#111" stroke-width="4.2" stroke-linecap="butt" stroke-linejoin="miter"/>
<polyline points="970.0,968.6 983.0,981.5 970.0,996.5" fill="none" stroke="#111" stroke-width="4.2" stroke-linecap="butt" stroke-linejoin="miter"/>
<polyline points="985.4,968.6 998.3,981.5 985.4,996.5" fill="none" stroke="#111" stroke-width="4.2" stroke-linecap="butt" stroke-linejoin="miter"/>
<text x="787.1" y="878.1" font-size="44" ><tspan font-style="italic">R</tspan><tspan font-size="29" dy="3">s</tspan></text>
<text x="950.3" y="878.1" font-size="44" ><tspan font-style="italic">R</tspan><tspan font-size="29" dy="3">ct</tspan></text>
<text x="945.9" y="1037.8" font-size="44" >CPE</text>
<polyline points="750.7,1143.8 756.4,1141.9 764.2,1139.2 773.6,1136.0 783.8,1132.8 794.4,1129.7 804.7,1127.3 815.0,1125.2 825.9,1123.0 837.2,1121.2 848.5,1119.8 859.8,1119.2 870.9,1119.7 881.8,1121.5 892.7,1124.3 903.5,1128.0 914.3,1132.1 924.8,1136.4 935.2,1140.7 946.0,1145.3 957.3,1150.6 968.5,1156.2 978.8,1161.4 987.5,1165.8 993.8,1169.0" fill="none" stroke="#f0c8c0" stroke-width="2" stroke-linejoin="round" stroke-linecap="round" />
<polyline points="504.4,1144.8 513.6,1137.9 526.4,1128.1 541.5,1116.5 557.9,1104.7 574.3,1093.8 589.6,1085.2 604.3,1078.8 619.3,1073.4 634.3,1069.1 649.2,1065.5 663.5,1062.7 677.0,1060.5 689.4,1058.8 700.9,1057.7 711.9,1057.3 722.8,1057.7 733.8,1059.1 745.4,1061.6 757.8,1065.4 770.8,1070.6 784.0,1076.7 797.1,1083.4 809.6,1090.5 821.2,1097.5 832.2,1104.7 842.8,1112.4 853.0,1120.3 862.4,1128.5 870.8,1136.7 878.1,1144.8 884.1,1153.4 889.1,1162.8 893.1,1172.2 896.3,1181.0 898.8,1188.4 900.9,1193.7" fill="none" stroke="#eee4d8" stroke-width="2" stroke-linejoin="round" stroke-linecap="round" />
<circle cx="372.0" cy="1281.0" r="8.0" fill="#c84a26" />
<circle cx="373.0" cy="1280.6" r="8.0" fill="#c84a26" />
<circle cx="374.3" cy="1280.0" r="8.0" fill="#c84a26" />
<circle cx="375.9" cy="1279.3" r="8.0" fill="#c84a26" />
<circle cx="377.7" cy="1278.8" r="8.0" fill="#c84a26" />
<circle cx="379.4" cy="1278.6" r="8.0" fill="#c84a26" />
<circle cx="381.0" cy="1279.0" r="8.0" fill="#c84a26" />
<circle cx="382.5" cy="1280.1" r="8.0" fill="#c84a26" />
<circle cx="383.9" cy="1281.9" r="8.0" fill="#c84a26" />
<circle cx="385.3" cy="1284.0" r="8.0" fill="#c84a26" />
<circle cx="386.8" cy="1286.2" r="8.0" fill="#c84a26" />
<circle cx="388.3" cy="1288.3" r="8.0" fill="#c84a26" />
<circle cx="390.0" cy="1290.0" r="8.0" fill="#c84a26" />
<circle cx="391.8" cy="1291.5" r="8.0" fill="#c84a26" />
<circle cx="393.9" cy="1293.0" r="8.0" fill="#c84a26" />
<circle cx="395.9" cy="1294.3" r="8.0" fill="#c84a26" />
<circle cx="398.0" cy="1295.4" r="8.0" fill="#c84a26" />
<circle cx="400.1" cy="1296.0" r="8.0" fill="#c84a26" />
<circle cx="402.0" cy="1296.0" r="8.0" fill="#c84a26" />
<circle cx="403.8" cy="1295.5" r="8.0" fill="#c84a26" />
<circle cx="405.5" cy="1294.5" r="8.0" fill="#c84a26" />
<circle cx="407.1" cy="1293.1" r="8.0" fill="#c84a26" />
<circle cx="408.7" cy="1291.3" r="8.0" fill="#c84a26" />
<circle cx="410.3" cy="1288.9" r="8.0" fill="#c84a26" />
<circle cx="412.0" cy="1286.0" r="8.0" fill="#c84a26" />
<circle cx="413.8" cy="1282.0" r="8.0" fill="#c84a26" />
<circle cx="415.8" cy="1276.9" r="8.0" fill="#c84a26" />
<circle cx="417.7" cy="1271.3" r="8.0" fill="#c84a26" />
<circle cx="419.5" cy="1265.8" r="8.0" fill="#c84a26" />
<circle cx="421.1" cy="1261.1" r="8.0" fill="#c84a26" />
<circle cx="422.2" cy="1257.8" r="8.0" fill="#c84a26" />
<circle cx="422.2" cy="1257.8" r="8.2" fill="#c84a26" />
<circle cx="435.0" cy="1244.0" r="8.2" fill="#c84a26" />
<circle cx="446.8" cy="1231.1" r="8.2" fill="#c84a26" />
<circle cx="455.0" cy="1224.0" r="8.2" fill="#c84a26" />
<circle cx="463.3" cy="1216.7" r="8.2" fill="#c84a26" />
<circle cx="475.6" cy="1204.4" r="8.2" fill="#c84a26" />
<circle cx="487.9" cy="1192.0" r="8.2" fill="#c84a26" />
<circle cx="501.3" cy="1181.8" r="8.2" fill="#c84a26" />
<circle cx="513.6" cy="1174.6" r="8.2" fill="#c84a26" />
<circle cx="529.0" cy="1166.4" r="8.2" fill="#c84a26" />
<circle cx="545.5" cy="1158.1" r="8.2" fill="#c84a26" />
<circle cx="561.9" cy="1153.0" r="8.2" fill="#c84a26" />
<circle cx="578.3" cy="1152.0" r="8.2" fill="#c84a26" />
<circle cx="594.8" cy="1151.0" r="8.2" fill="#c84a26" />
<circle cx="612.2" cy="1148.9" r="8.2" fill="#c84a26" />
<circle cx="629.7" cy="1148.9" r="8.2" fill="#c84a26" />
<circle cx="644.1" cy="1152.0" r="8.2" fill="#c84a26" />
<circle cx="654.4" cy="1161.2" r="8.2" fill="#c84a26" />
<circle cx="664.6" cy="1171.5" r="8.2" fill="#c84a26" />
<circle cx="677.0" cy="1175.6" r="8.2" fill="#c84a26" />
<circle cx="689.3" cy="1183.8" r="8.2" fill="#c84a26" />
<circle cx="697.5" cy="1192.0" r="8.2" fill="#c84a26" />
<circle cx="707.8" cy="1203.3" r="8.2" fill="#c84a26" />
<circle cx="360.5" cy="1304.0" r="8.3" fill="#d5b77b" />
<circle cx="361.5" cy="1303.2" r="8.3" fill="#d5b77b" />
<circle cx="362.8" cy="1302.1" r="8.3" fill="#d5b77b" />
<circle cx="364.4" cy="1300.8" r="8.3" fill="#d5b77b" />
<circle cx="366.2" cy="1299.4" r="8.3" fill="#d5b77b" />
<circle cx="368.4" cy="1298.0" r="8.3" fill="#d5b77b" />
<circle cx="370.8" cy="1296.8" r="8.3" fill="#d5b77b" />
<circle cx="373.6" cy="1295.7" r="8.3" fill="#d5b77b" />
<circle cx="376.9" cy="1294.6" r="8.3" fill="#d5b77b" />
<circle cx="380.5" cy="1293.6" r="8.3" fill="#d5b77b" />
<circle cx="384.2" cy="1292.5" r="8.3" fill="#d5b77b" />
<circle cx="387.9" cy="1291.6" r="8.3" fill="#d5b77b" />
<circle cx="391.4" cy="1290.7" r="8.3" fill="#d5b77b" />
<circle cx="394.9" cy="1290.0" r="8.3" fill="#d5b77b" />
<circle cx="398.4" cy="1289.6" r="8.3" fill="#d5b77b" />
<circle cx="401.9" cy="1289.2" r="8.3" fill="#d5b77b" />
<circle cx="405.4" cy="1288.7" r="8.3" fill="#d5b77b" />
<circle cx="408.7" cy="1287.9" r="8.3" fill="#d5b77b" />
<circle cx="411.9" cy="1286.6" r="8.3" fill="#d5b77b" />
<circle cx="415.0" cy="1284.8" r="8.3" fill="#d5b77b" />
<circle cx="418.0" cy="1282.6" r="8.3" fill="#d5b77b" />
<circle cx="420.9" cy="1280.2" r="8.3" fill="#d5b77b" />
<circle cx="423.7" cy="1277.5" r="8.3" fill="#d5b77b" />
<circle cx="426.2" cy="1274.8" r="8.3" fill="#d5b77b" />
<circle cx="428.4" cy="1272.2" r="8.3" fill="#d5b77b" />
<circle cx="430.3" cy="1269.6" r="8.3" fill="#d5b77b" />
<circle cx="431.8" cy="1267.0" r="8.3" fill="#d5b77b" />
<circle cx="433.1" cy="1264.3" r="8.3" fill="#d5b77b" />
<circle cx="434.3" cy="1261.6" r="8.3" fill="#d5b77b" />
<circle cx="435.5" cy="1258.7" r="8.3" fill="#d5b77b" />
<circle cx="436.6" cy="1255.7" r="8.3" fill="#d5b77b" />
<circle cx="437.7" cy="1252.5" r="8.3" fill="#d5b77b" />
<circle cx="438.6" cy="1249.1" r="8.3" fill="#d5b77b" />
<circle cx="439.5" cy="1245.6" r="8.3" fill="#d5b77b" />
<circle cx="440.4" cy="1242.0" r="8.3" fill="#d5b77b" />
<circle cx="441.5" cy="1238.5" r="8.3" fill="#d5b77b" />
<circle cx="442.7" cy="1235.2" r="8.3" fill="#d5b77b" />
<circle cx="444.2" cy="1232.0" r="8.3" fill="#d5b77b" />
<circle cx="445.8" cy="1228.8" r="8.3" fill="#d5b77b" />
<circle cx="447.6" cy="1225.7" r="8.3" fill="#d5b77b" />
<circle cx="449.4" cy="1222.6" r="8.3" fill="#d5b77b" />
<circle cx="451.2" cy="1219.6" r="8.3" fill="#d5b77b" />
<circle cx="453.0" cy="1216.7" r="8.3" fill="#d5b77b" />
<circle cx="454.8" cy="1213.8" r="8.3" fill="#d5b77b" />
<circle cx="456.7" cy="1210.8" r="8.3" fill="#d5b77b" />
<circle cx="458.6" cy="1207.9" r="8.3" fill="#d5b77b" />
<circle cx="460.4" cy="1205.2" r="8.3" fill="#d5b77b" />
<circle cx="462.0" cy="1202.6" r="8.3" fill="#d5b77b" />
<circle cx="463.3" cy="1200.3" r="8.3" fill="#d5b77b" />
<circle cx="464.3" cy="1198.2" r="8.3" fill="#d5b77b" />
<circle cx="465.0" cy="1196.3" r="8.3" fill="#d5b77b" />
<circle cx="465.5" cy="1194.6" r="8.3" fill="#d5b77b" />
<circle cx="465.9" cy="1193.1" r="8.3" fill="#d5b77b" />
<circle cx="466.1" cy="1191.9" r="8.3" fill="#d5b77b" />
<circle cx="466.4" cy="1191.0" r="8.3" fill="#d5b77b" />
<circle cx="477.7" cy="1176.6" r="8.2" fill="#d5b77b" />
<circle cx="490.0" cy="1160.2" r="8.2" fill="#d5b77b" />
<circle cx="504.4" cy="1144.8" r="8.2" fill="#d5b77b" />
<circle cx="522.5" cy="1130.4" r="8.2" fill="#d5b77b" />
<circle cx="543.4" cy="1115.0" r="8.2" fill="#d5b77b" />
<circle cx="565.6" cy="1100.0" r="8.2" fill="#d5b77b" />
<circle cx="589.6" cy="1085.2" r="8.2" fill="#d5b77b" />
<circle cx="617.0" cy="1073.9" r="8.2" fill="#d5b77b" />
<circle cx="645.5" cy="1065.7" r="8.2" fill="#d5b77b" />
<circle cx="677.0" cy="1060.5" r="8.2" fill="#d5b77b" />
<circle cx="711.9" cy="1059.5" r="8.2" fill="#d5b77b" />
<circle cx="745.4" cy="1061.6" r="8.2" fill="#d5b77b" />
<circle cx="773.9" cy="1068.8" r="8.2" fill="#d5b77b" />
<circle cx="799.6" cy="1081.1" r="8.2" fill="#d5b77b" />
<circle cx="821.2" cy="1097.5" r="8.2" fill="#d5b77b" />
<circle cx="839.7" cy="1112.9" r="8.2" fill="#d5b77b" />
<circle cx="855.1" cy="1130.4" r="8.2" fill="#d5b77b" />
<circle cx="878.1" cy="1144.8" r="8.2" fill="#d5b77b" />
<circle cx="892.0" cy="1161.2" r="8.2" fill="#d5b77b" />
<circle cx="894.5" cy="1177.7" r="8.2" fill="#d5b77b" />
<circle cx="900.9" cy="1193.7" r="8.2" fill="#d5b77b" />
<circle cx="533.3" cy="1250.7" r="8.0" fill="#8db2d6" />
<circle cx="536.0" cy="1250.5" r="8.0" fill="#8db2d6" />
<circle cx="539.7" cy="1250.4" r="8.0" fill="#8db2d6" />
<circle cx="544.2" cy="1250.2" r="8.0" fill="#8db2d6" />
<circle cx="549.0" cy="1249.9" r="8.0" fill="#8db2d6" />
<circle cx="553.9" cy="1249.4" r="8.0" fill="#8db2d6" />
<circle cx="558.7" cy="1248.7" r="8.0" fill="#8db2d6" />
<circle cx="563.4" cy="1247.8" r="8.0" fill="#8db2d6" />
<circle cx="568.2" cy="1246.8" r="8.0" fill="#8db2d6" />
<circle cx="573.2" cy="1245.7" r="8.0" fill="#8db2d6" />
<circle cx="578.2" cy="1244.3" r="8.0" fill="#8db2d6" />
<circle cx="583.2" cy="1242.7" r="8.0" fill="#8db2d6" />
<circle cx="588.1" cy="1240.9" r="8.0" fill="#8db2d6" />
<circle cx="593.1" cy="1238.8" r="8.0" fill="#8db2d6" />
<circle cx="598.1" cy="1236.3" r="8.0" fill="#8db2d6" />
<circle cx="603.1" cy="1233.6" r="8.0" fill="#8db2d6" />
<circle cx="608.1" cy="1230.8" r="8.0" fill="#8db2d6" />
<circle cx="612.9" cy="1228.0" r="8.0" fill="#8db2d6" />
<circle cx="617.4" cy="1225.2" r="8.0" fill="#8db2d6" />
<circle cx="621.9" cy="1222.3" r="8.0" fill="#8db2d6" />
<circle cx="626.5" cy="1219.1" r="8.0" fill="#8db2d6" />
<circle cx="631.0" cy="1215.9" r="8.0" fill="#8db2d6" />
<circle cx="635.0" cy="1212.9" r="8.0" fill="#8db2d6" />
<circle cx="638.4" cy="1210.4" r="8.0" fill="#8db2d6" />
<circle cx="640.9" cy="1208.6" r="8.0" fill="#8db2d6" />
<circle cx="640.9" cy="1208.6" r="8.0" fill="#8db2d6" />
<circle cx="648.8" cy="1204.7" r="8.0" fill="#8db2d6" />
<circle cx="656.6" cy="1200.8" r="8.0" fill="#8db2d6" />
<circle cx="663.5" cy="1196.9" r="8.0" fill="#8db2d6" />
<circle cx="670.3" cy="1193.0" r="8.0" fill="#8db2d6" />
<circle cx="678.1" cy="1188.5" r="8.0" fill="#8db2d6" />
<circle cx="685.9" cy="1184.1" r="8.0" fill="#8db2d6" />
<circle cx="694.7" cy="1181.2" r="8.0" fill="#8db2d6" />
<circle cx="703.5" cy="1178.3" r="8.0" fill="#8db2d6" />
<circle cx="720.2" cy="1177.3" r="8.0" fill="#8db2d6" />
<circle cx="736.8" cy="1178.3" r="8.0" fill="#8db2d6" />
<circle cx="753.4" cy="1180.2" r="8.0" fill="#8db2d6" />
<circle cx="770.1" cy="1185.1" r="8.0" fill="#8db2d6" />
<circle cx="770.1" cy="1185.1" r="8.0" fill="#8db2d6" />
<circle cx="773.0" cy="1185.9" r="8.0" fill="#8db2d6" />
<circle cx="777.2" cy="1187.1" r="8.0" fill="#8db2d6" />
<circle cx="781.7" cy="1188.5" r="8.0" fill="#8db2d6" />
<circle cx="785.7" cy="1190.0" r="8.0" fill="#8db2d6" />
<circle cx="788.9" cy="1191.8" r="8.0" fill="#8db2d6" />
<circle cx="791.8" cy="1193.8" r="8.0" fill="#8db2d6" />
<circle cx="794.6" cy="1195.8" r="8.0" fill="#8db2d6" />
<circle cx="797.5" cy="1197.8" r="8.0" fill="#8db2d6" />
<circle cx="800.4" cy="1199.6" r="8.0" fill="#8db2d6" />
<circle cx="803.4" cy="1201.2" r="8.0" fill="#8db2d6" />
<circle cx="806.3" cy="1202.9" r="8.0" fill="#8db2d6" />
<circle cx="809.2" cy="1204.7" r="8.0" fill="#8db2d6" />
<circle cx="812.1" cy="1206.6" r="8.0" fill="#8db2d6" />
<circle cx="815.0" cy="1208.5" r="8.0" fill="#8db2d6" />
<circle cx="818.0" cy="1210.5" r="8.0" fill="#8db2d6" />
<circle cx="820.9" cy="1212.5" r="8.0" fill="#8db2d6" />
<circle cx="823.8" cy="1214.6" r="8.0" fill="#8db2d6" />
<circle cx="826.8" cy="1216.7" r="8.0" fill="#8db2d6" />
<circle cx="829.8" cy="1218.9" r="8.0" fill="#8db2d6" />
<circle cx="832.7" cy="1221.3" r="8.0" fill="#8db2d6" />
<circle cx="835.5" cy="1224.0" r="8.0" fill="#8db2d6" />
<circle cx="838.3" cy="1227.0" r="8.0" fill="#8db2d6" />
<circle cx="841.2" cy="1230.0" r="8.0" fill="#8db2d6" />
<circle cx="844.4" cy="1233.1" r="8.0" fill="#8db2d6" />
<circle cx="848.4" cy="1236.5" r="8.0" fill="#8db2d6" />
<circle cx="853.0" cy="1240.2" r="8.0" fill="#8db2d6" />
<circle cx="857.2" cy="1243.5" r="8.0" fill="#8db2d6" />
<circle cx="860.1" cy="1245.8" r="8.0" fill="#8db2d6" />
<circle cx="624.6" cy="1181.8" r="8.0" fill="#0d3b6c" />
<circle cx="642.0" cy="1176.6" r="8.0" fill="#0d3b6c" />
<circle cx="664.2" cy="1168.4" r="8.0" fill="#0d3b6c" />
<circle cx="683.1" cy="1162.3" r="8.0" fill="#0d3b6c" />
<circle cx="704.7" cy="1156.1" r="8.0" fill="#0d3b6c" />
<circle cx="726.3" cy="1149.9" r="8.0" fill="#0d3b6c" />
<circle cx="750.7" cy="1143.8" r="8.0" fill="#0d3b6c" />
<circle cx="775.3" cy="1135.5" r="8.0" fill="#0d3b6c" />
<circle cx="804.7" cy="1127.3" r="8.0" fill="#0d3b6c" />
<circle cx="839.2" cy="1121.2" r="8.0" fill="#0d3b6c" />
<circle cx="870.9" cy="1119.7" r="8.0" fill="#0d3b6c" />
<circle cx="896.8" cy="1123.2" r="8.0" fill="#0d3b6c" />
<circle cx="918.3" cy="1129.8" r="8.0" fill="#0d3b6c" />
<circle cx="935.2" cy="1140.7" r="8.0" fill="#0d3b6c" />
<circle cx="953.7" cy="1153.0" r="8.0" fill="#0d3b6c" />
<circle cx="972.8" cy="1162.9" r="8.0" fill="#0d3b6c" />
<circle cx="993.8" cy="1169.0" r="8.0" fill="#0d3b6c" />
<rect x="1513.5" y="794.0" width="925.5" height="539.0" fill="none" stroke="#000" stroke-width="3" />
<text x="1493.3" y="806.0" font-size="44" text-anchor="end" >–400</text>
<line x1="1515.0" y1="924.2" x2="1530.5" y2="924.2" stroke="#000" stroke-width="3.5" />
<text x="1493.3" y="938.5" font-size="44" text-anchor="end" >–200</text>
<line x1="1515.0" y1="1060.3" x2="1530.5" y2="1060.3" stroke="#000" stroke-width="3.5" />
<text x="1493.3" y="1072.6" font-size="44" text-anchor="end" >0</text>
<line x1="1515.0" y1="1194.2" x2="1530.5" y2="1194.2" stroke="#000" stroke-width="3.5" />
<text x="1493.3" y="1206.8" font-size="44" text-anchor="end" >200</text>
<text x="1493.3" y="1339.3" font-size="44" text-anchor="end" >400</text>
<line x1="1625.3" y1="1331.5" x2="1625.3" y2="1316.0" stroke="#000" stroke-width="3.5" />
<line x1="1743.5" y1="1331.5" x2="1743.5" y2="1316.0" stroke="#000" stroke-width="3.5" />
<line x1="1859.5" y1="1331.5" x2="1859.5" y2="1316.0" stroke="#000" stroke-width="3.5" />
<line x1="1975.6" y1="1331.5" x2="1975.6" y2="1316.0" stroke="#000" stroke-width="3.5" />
<line x1="2091.5" y1="1331.5" x2="2091.5" y2="1316.0" stroke="#000" stroke-width="3.5" />
<line x1="2209.0" y1="1331.5" x2="2209.0" y2="1316.0" stroke="#000" stroke-width="3.5" />
<line x1="2325.0" y1="1331.5" x2="2325.0" y2="1316.0" stroke="#000" stroke-width="3.5" />
<text x="1506.0" y="1385.6" font-size="44" text-anchor="middle" >0</text>
<text x="1628.5" y="1385.6" font-size="44" text-anchor="middle" >25</text>
<text x="1739.8" y="1385.6" font-size="44" text-anchor="middle" >50</text>
<text x="1861.6" y="1385.6" font-size="44" text-anchor="middle" >75</text>
<text x="1973.4" y="1385.6" font-size="44" text-anchor="middle" >100</text>
<text x="2095.2" y="1385.6" font-size="44" text-anchor="middle" >125</text>
<text x="2207.7" y="1385.6" font-size="44" text-anchor="middle" >150</text>
<text x="2317.4" y="1385.6" font-size="44" text-anchor="middle" >175</text>
<text x="2438.9" y="1385.6" font-size="44" text-anchor="middle" >200</text>
<text x="2007.2" y="1455.0" font-size="44" text-anchor="middle" >Time/h</text>
<text transform="translate(1360.7,1061.5) rotate(-90)" x="0" y="0" font-size="44" text-anchor="middle" textLength="410" lengthAdjust="spacingAndGlyphs">Potential/mV(<tspan font-style="italic">vs.</tspan> RHE)</text>
<text x="1525.7" y="839.3" font-size="45" >(D)</text>
<polyline points="1563.0,1044.6 1589.2,1046.2 1636.2,1043.4 1704.3,1045.8 1707.8,1040.6 1805.3,1040.6 1946.2,1036.8 1958.0,1041.5 2400.0,1041.5" fill="none" stroke="#111" stroke-width="4.5" stroke-linejoin="round" stroke-linecap="round" />
<polyline points="1515.0,1041.5 1516.2,1052.2 1517.2,1037.0 1517.8,1053.0 1518.8,1030.0 1519.7,1053.7 1521.1,1029.1 1521.7,1057.8 1522.6,1037.5 1523.3,1051.4 1524.2,1035.9 1525.0,1052.1 1525.6,1033.7 1526.8,1055.5 1528.0,1037.6 1529.2,1059.2 1530.2,1034.7 1531.0,1057.8 1532.3,1036.6 1532.9,1054.4 1533.8,1038.8 1535.0,1054.5 1536.0,1038.0 1537.0,1053.2 1537.6,1041.0 1539.0,1054.0 1539.7,1039.6 1540.9,1057.2 1541.7,1039.3 1542.8,1052.0 1543.8,1028.5 1545.0,1059.6 1546.2,1033.6 1547.3,1050.1 1548.6,1033.0 1549.6,1052.9 1550.5,1036.6 1551.6,1050.1 1552.3,1039.1 1553.6,1058.7 1554.9,1040.5 1556.0,1047.1 1556.6,1032.0 1557.3,1053.9 1558.0,1038.8 1558.7,1054.0 1559.7,1037.1 1560.3,1052.6 1561.0,1042.1 1562.0,1052.7" fill="none" stroke="#111" stroke-width="3.8" stroke-linecap="round" stroke-linejoin="miter"/>
<polyline points="1960.0,1032.2 1960.9,1047.2 1962.6,1029.9 1964.1,1048.9 1965.1,1032.1 1966.8,1053.9 1968.2,1031.1 1969.1,1044.3 1970.3,1035.7 1971.7,1046.4 1972.6,1031.1 1974.0,1052.1 1975.0,1031.7 1976.7,1052.1 1978.4,1036.4 1980.3,1047.1 1982.0,1032.8" fill="none" stroke="#111" stroke-width="3.4" stroke-linecap="round" stroke-linejoin="miter"/>
<polyline points="2011.7,1033.8 2012.8,1050.1 2013.6,1037.5 2014.5,1050.1 2015.7,1029.0 2017.0,1046.9 2018.6,1033.2 2019.9,1047.1 2021.2,1029.7 2022.8,1049.8 2024.4,1033.1 2025.5,1050.2 2027.1,1026.0 2027.9,1049.7 2029.1,1029.3 2030.3,1046.5 2031.5,1033.9 2032.9,1054.1 2034.6,1027.9 2036.1,1054.7 2037.4,1028.0 2038.9,1047.4 2039.7,1032.6 2040.5,1049.9 2041.4,1035.0 2042.9,1045.9 2043.7,1028.8 2045.3,1051.9 2046.9,1029.9 2048.2,1042.8 2049.3,1028.3 2050.1,1049.7 2051.7,1027.9 2052.9,1049.6 2054.2,1032.0 2055.8,1048.0 2057.2,1032.1 2058.9,1048.9 2059.6,1032.8 2060.4,1050.2 2061.1,1030.4 2062.5,1048.8 2063.9,1031.9 2065.3,1049.9 2066.5,1029.6 2067.5,1046.1 2068.8,1032.2 2070.3,1045.5 2071.7,1031.0" fill="none" stroke="#111" stroke-width="3.6" stroke-linecap="round" stroke-linejoin="miter"/>
<polyline points="2079.8,1029.9 2080.9,1043.0 2082.0,1030.0 2083.5,1047.2 2084.4,1030.4 2085.4,1055.0 2086.9,1026.2 2087.9,1051.9 2089.4,1024.7 2090.7,1050.5 2091.6,1027.9 2093.2,1052.3 2094.2,1028.3" fill="none" stroke="#111" stroke-width="3.6" stroke-linecap="round" stroke-linejoin="miter"/>
<polyline points="2119.7,1036.0 2122.2,1049.9 2124.8,1037.5 2127.6,1049.2" fill="none" stroke="#111" stroke-width="3.2" stroke-linecap="round" stroke-linejoin="miter"/>
<polyline points="2128.0,1039.1 2130.1,1046.6 2132.6,1038.0 2134.7,1045.2 2137.4,1036.6 2140.0,1046.5 2141.6,1038.8 2143.9,1045.9 2146.4,1039.5 2148.5,1043.6 2150.0,1037.6" fill="none" stroke="#111" stroke-width="3.2" stroke-linecap="round" stroke-linejoin="miter"/>
<polyline points="2151.9,1030.8 2152.9,1044.9 2154.0,1033.1 2154.9,1051.9 2156.2,1027.7 2157.2,1050.4 2158.2,1025.6 2159.5,1056.3 2160.3,1036.9 2161.6,1047.4 2162.3,1027.4 2163.7,1049.6 2164.8,1035.7 2166.2,1052.9 2167.3,1032.0 2167.9,1051.2 2168.8,1026.0 2170.1,1048.3 2171.2,1029.5 2172.2,1045.6 2173.5,1024.3 2174.7,1045.6 2176.0,1027.7 2176.9,1047.1 2178.3,1033.8 2179.5,1054.9 2180.3,1029.7 2181.5,1054.5 2182.7,1028.0 2183.7,1052.5 2184.4,1026.2 2185.4,1051.1 2186.0,1034.7 2186.9,1048.9 2188.2,1031.9 2189.5,1050.4 2190.5,1027.5 2191.4,1052.5 2192.3,1033.3 2193.6,1051.3 2194.5,1031.3 2195.7,1053.5 2196.3,1027.0 2196.9,1050.5 2198.1,1035.7 2199.4,1044.8 2200.7,1028.8 2202.0,1054.2 2202.9,1032.9 2203.7,1053.6 2204.4,1025.7 2205.1,1052.5 2206.4,1031.1 2207.1,1050.7 2208.2,1030.5 2209.5,1052.8 2210.7,1037.8 2212.0,1053.5 2213.0,1034.4 2213.7,1058.5 2214.5,1022.8 2215.8,1053.7 2216.7,1022.5 2217.4,1055.6 2218.4,1031.8 2219.3,1051.9 2220.5,1028.3 2221.4,1049.8 2222.1,1029.8 2223.1,1043.8 2224.1,1035.0 2224.8,1046.4 2225.9,1029.0 2226.7,1055.8 2227.6,1031.9 2228.4,1054.7 2229.4,1031.7 2230.3,1050.0 2231.7,1031.5 2232.9,1055.6 2233.8,1033.3 2234.5,1051.6 2235.2,1037.0 2235.9,1049.8 2236.8,1035.1 2238.0,1049.6 2239.3,1032.1 2240.5,1051.8 2241.6,1030.4 2243.0,1051.2 2244.2,1031.0 2245.4,1049.1 2246.1,1029.8" fill="none" stroke="#111" stroke-width="3.8" stroke-linecap="round" stroke-linejoin="miter"/>
<polyline points="2246.5,1034.4 2247.7,1049.6 2248.7,1038.8 2249.4,1048.8 2250.1,1038.5 2250.9,1051.3 2252.4,1034.3 2253.9,1051.7 2254.8,1035.4 2255.8,1052.4 2256.9,1033.7 2258.1,1046.1 2258.9,1033.8 2259.9,1052.7 2260.8,1034.9 2261.7,1053.1 2263.1,1032.4 2264.6,1049.1 2265.9,1038.0 2266.6,1055.5 2267.8,1031.6 2269.1,1053.7 2270.1,1036.4 2271.2,1050.4 2272.5,1038.1 2273.9,1050.0 2275.1,1038.8 2275.9,1046.5 2277.3,1036.5 2278.3,1052.1 2279.3,1038.0 2280.7,1053.4 2281.7,1039.4 2283.2,1047.6 2284.1,1037.4 2285.3,1047.1 2286.3,1037.0 2287.8,1053.9 2289.0,1031.1 2290.5,1057.1 2291.8,1035.6 2292.6,1050.2 2293.3,1035.3 2294.3,1045.6 2295.0,1037.5 2295.7,1055.9 2296.5,1036.3 2297.5,1052.2 2299.0,1035.7 2299.8,1048.4 2300.7,1030.8 2301.3,1055.9 2302.1,1031.9 2303.3,1058.5 2304.5,1036.4 2305.3,1054.6 2306.7,1034.8 2308.1,1058.4 2309.4,1035.0 2310.3,1051.5 2311.0,1037.4 2311.9,1057.1 2312.9,1036.0 2314.4,1049.4 2315.3,1035.7 2316.5,1057.7 2317.6,1036.7 2318.3,1056.5 2319.6,1033.6 2320.5,1053.3 2321.8,1031.5 2322.8,1057.2 2323.6,1035.8 2325.1,1052.1 2326.5,1033.3 2327.5,1050.1 2328.1,1033.3 2329.3,1055.0" fill="none" stroke="#111" stroke-width="3.8" stroke-linecap="round" stroke-linejoin="miter"/>
<polyline points="2330.0,1039.4 2330.7,1051.0 2331.5,1026.6 2332.6,1052.1 2333.6,1038.6 2334.3,1046.5 2335.1,1037.4 2336.0,1047.5 2337.4,1037.9 2338.3,1052.8 2339.4,1034.5 2340.8,1050.5 2341.4,1029.4 2342.2,1057.2 2343.4,1028.2 2344.2,1052.9 2345.5,1038.2 2346.6,1059.5 2347.6,1032.8 2348.6,1049.3 2350.0,1034.8 2350.7,1046.5 2351.6,1034.5 2352.5,1058.9 2353.3,1031.3 2354.4,1054.3 2355.6,1030.8 2356.8,1048.7 2357.8,1034.7 2358.7,1052.9 2359.5,1033.1 2360.2,1051.8 2361.5,1034.9 2362.9,1045.1 2363.6,1034.8 2364.8,1055.5 2365.4,1027.9 2366.7,1052.8 2367.9,1029.8 2368.6,1056.3 2369.3,1032.3 2370.3,1046.7 2371.3,1030.5 2372.3,1056.5 2373.3,1032.9 2374.0,1049.8 2374.7,1033.1 2375.8,1047.6 2376.8,1040.5 2378.0,1054.5 2378.7,1035.7 2379.9,1049.9 2381.0,1031.8 2382.4,1054.5 2383.2,1036.8 2384.1,1059.5 2385.1,1036.0 2386.3,1054.0 2387.1,1038.1 2388.4,1049.5 2389.5,1031.9" fill="none" stroke="#111" stroke-width="3.8" stroke-linecap="round" stroke-linejoin="miter"/>
<polyline points="2390.0,1018.9 2390.7,1046.5 2391.7,1010.2 2392.8,1043.9 2393.7,1017.0 2394.8,1040.7 2395.5,1025.0 2396.6,1049.9 2397.8,1022.3 2398.9,1049.8 2399.6,1019.3 2400.4,1048.1 2401.7,1010.1 2402.6,1042.2 2403.6,1010.5 2404.7,1044.4 2406.0,1017.7 2406.6,1042.7 2407.3,1025.1 2408.2,1048.4 2408.9,1015.1 2410.0,1048.1 2411.1,1014.5 2411.9,1059.9 2412.6,1022.9 2413.4,1043.8 2414.2,1019.0 2415.5,1041.2" fill="none" stroke="#111" stroke-width="3.8" stroke-linecap="round" stroke-linejoin="miter"/>
<polyline points="2396.8,1045.0 2396.8,1000.0 2398.5,1045.0" fill="none" stroke="#111" stroke-width="3.5" stroke-linejoin="round" stroke-linecap="round" />
<polyline points="2406.0,1048.0 2407.4,1003.0 2409.0,1048.0" fill="none" stroke="#111" stroke-width="3.5" stroke-linejoin="round" stroke-linecap="round" />
<rect x="2410" y="1014" width="6" height="36" fill="#111"/>
<line x1="723.0" y1="1578.5" x2="2282.0" y2="1578.5" stroke="#ededed" stroke-width="3" />
<line x1="345.0" y1="1672.5" x2="2282.0" y2="1672.5" stroke="#ededed" stroke-width="3" />
<line x1="345.0" y1="1767.0" x2="2282.0" y2="1767.0" stroke="#ededed" stroke-width="3" />
<line x1="345.0" y1="1861.5" x2="2282.0" y2="1861.5" stroke="#ededed" stroke-width="3" />
<line x1="345.0" y1="1956.0" x2="2282.0" y2="1956.0" stroke="#ededed" stroke-width="3" />
<line x1="259.0" y1="2033.7" x2="340.0" y2="1957.7" stroke="#f0f0f0" stroke-width="2.5" />
<line x1="259.0" y1="1940.0" x2="340.0" y2="1864.0" stroke="#f0f0f0" stroke-width="2.5" />
<line x1="259.0" y1="1846.2" x2="340.0" y2="1770.2" stroke="#f0f0f0" stroke-width="2.5" />
<line x1="259.0" y1="1752.5" x2="340.0" y2="1676.5" stroke="#f0f0f0" stroke-width="2.5" />
<line x1="259.0" y1="1658.7" x2="340.0" y2="1582.7" stroke="#f0f0f0" stroke-width="2.5" />
<line x1="247.0" y1="1619.0" x2="247.0" y2="2141.0" stroke="#111" stroke-width="4.2" />
<line x1="247.0" y1="1619.5" x2="342.5" y2="1533.5" stroke="#222" stroke-width="4.2" />
<line x1="341.0" y1="1533.3" x2="2285.0" y2="1533.3" stroke="#111" stroke-width="4" />
<line x1="343.5" y1="1534.0" x2="343.5" y2="2050.6" stroke="#555" stroke-width="4" />
<line x1="2283.6" y1="1532.0" x2="2283.6" y2="2052.0" stroke="#2a1410" stroke-width="4.2" />
<line x1="343.5" y1="2050.6" x2="2283.6" y2="2050.6" stroke="#111" stroke-width="4" />
<line x1="247.0" y1="2139.5" x2="343.5" y2="2050.6" stroke="#111" stroke-width="4.2" />
<line x1="2187.7" y1="2139.5" x2="2283.6" y2="2050.9" stroke="#111" stroke-width="4.2" />
<line x1="245.0" y1="2139.6" x2="2188.0" y2="2139.6" stroke="#111" stroke-width="4.4" />
<text x="235.0" y="2154.0" font-size="44" text-anchor="end" >0</text>
<line x1="247.0" y1="2045.7" x2="260.5" y2="2033.2" stroke="#111" stroke-width="4" />
<text x="235.0" y="2060.2" font-size="44" text-anchor="end" >20</text>
<line x1="247.0" y1="1952.0" x2="260.5" y2="1939.5" stroke="#111" stroke-width="4" />
<text x="235.0" y="1966.5" font-size="44" text-anchor="end" >40</text>
<line x1="247.0" y1="1858.2" x2="260.5" y2="1845.7" stroke="#111" stroke-width="4" />
<text x="235.0" y="1872.7" font-size="44" text-anchor="end" >60</text>
<line x1="247.0" y1="1764.5" x2="260.5" y2="1752.0" stroke="#111" stroke-width="4" />
<text x="235.0" y="1779.0" font-size="44" text-anchor="end" >80</text>
<line x1="247.0" y1="1670.7" x2="260.5" y2="1658.2" stroke="#111" stroke-width="4" />
<text x="235.0" y="1685.2" font-size="44" text-anchor="end" >100</text>
<line x1="2265.3" y1="2049.3" x2="2283.6" y2="2049.3" stroke="#111" stroke-width="4" />
<text x="2298.5" y="2063.3" font-size="44" >0</text>
<line x1="2265.3" y1="1954.9" x2="2283.6" y2="1954.9" stroke="#111" stroke-width="4" />
<text x="2298.5" y="1968.9" font-size="44" >30</text>
<line x1="2265.3" y1="1860.6" x2="2283.6" y2="1860.6" stroke="#111" stroke-width="4" />
<text x="2298.5" y="1874.6" font-size="44" >60</text>
<line x1="2265.3" y1="1766.2" x2="2283.6" y2="1766.2" stroke="#111" stroke-width="4" />
<text x="2298.5" y="1780.2" font-size="44" >90</text>
<line x1="2265.3" y1="1671.9" x2="2283.6" y2="1671.9" stroke="#111" stroke-width="4" />
<text x="2298.5" y="1685.9" font-size="44" >120</text>
<line x1="2265.3" y1="1577.5" x2="2283.6" y2="1577.5" stroke="#111" stroke-width="4" />
<text x="2298.5" y="1591.5" font-size="44" >150</text>
<text transform="translate(132.3,1897.0) rotate(-90)" x="0" y="0" font-size="44" text-anchor="middle" >Overpotential/mV</text>
<text transform="translate(2438.7,1784.2) rotate(-90)" x="0" y="0" font-size="44" text-anchor="middle" textLength="279" lengthAdjust="spacingAndGlyphs">Tafel/(mV·dec<tspan font-size="28" dy="-16">–1</tspan><tspan dy="16">)</tspan></text>
<text x="1212.2" y="2204.8" font-size="44" text-anchor="middle" >Electrocatalyst</text>
<text x="362.2" y="1584.6" font-size="45" >(E)</text>
<polyline points="418.3,1877.4 418.3,1788.0 312.0,1788.0" fill="none" stroke="#111" stroke-width="3.2" stroke-linecap="butt" stroke-linejoin="miter"/>
<path d="M303.9,1788 L326,1780.8 L320.5,1788 L326,1795.2 Z" fill="#111"/>
<line x1="1823.0" y1="1568.2" x2="1938.0" y2="1568.2" stroke="#111" stroke-width="3.2" />
<path d="M1946,1568.2 L1924,1560.8 L1929.5,1568.2 L1924,1575.6 Z" fill="#111"/>
<linearGradient id="cg0" gradientUnits="userSpaceOnUse" x1="362.9" y1="0" x2="470.1" y2="0"><stop offset="0" stop-color="#cc7430"/><stop offset="0.08" stop-color="#cc7430"/><stop offset="0.40" stop-color="#8e4e22"/><stop offset="0.55" stop-color="#8e4e22"/><stop offset="0.85" stop-color="#f2943e"/><stop offset="0.95" stop-color="#f2943e"/><stop offset="1" stop-color="#d8852f"/></linearGradient><path d="M362.9,1905.7 L362.9,2099.9 L363.1,2100.8 L363.6,2101.7 L364.4,2102.6 L365.5,2103.5 L367.0,2104.3 L368.7,2105.0 L370.8,2105.7 L373.1,2106.4 L375.7,2106.9 L378.6,2107.4 L381.7,2107.9 L385.0,2108.2 L388.5,2108.5 L392.2,2108.7 L396.0,2108.8 L399.9,2108.9 L404.0,2108.9 L408.1,2108.8 L412.3,2108.6 L416.5,2108.3 L420.7,2108.0 L424.9,2107.5 L429.0,2107.1 L433.1,2106.5 L437.0,2105.9 L440.8,2105.2 L444.5,2104.5 L448.0,2103.7 L451.3,2102.8 L454.4,2102.0 L457.3,2101.1 L459.9,2100.1 L462.2,2099.1 L464.3,2098.1 L466.0,2097.1 L467.5,2096.1 L468.6,2095.1 L469.4,2094.1 L469.9,2093.1 L470.1,2092.1 L470.1,1897.9 Z" fill="url(#cg0)"/><path d="M470.1,1897.9 L469.8,1899.2 L468.9,1900.6 L467.5,1901.9 L465.5,1903.3 L462.9,1904.6 L459.9,1905.9 L456.3,1907.2 L452.4,1908.4 L448.0,1909.5 L443.3,1910.5 L438.3,1911.5 L433.1,1912.3 L427.6,1913.0 L422.1,1913.6 L416.5,1914.1 L410.9,1914.4 L405.4,1914.6 L399.9,1914.7 L394.7,1914.6 L389.7,1914.4 L385.0,1914.0 L380.6,1913.5 L376.7,1912.9 L373.1,1912.2 L370.1,1911.3 L367.5,1910.3 L365.5,1909.3 L364.1,1908.1 L363.2,1906.9 L362.9,1905.7 L363.2,1904.4 L364.1,1903.0 L365.5,1901.7 L367.5,1900.3 L370.1,1899.0 L373.1,1897.7 L376.7,1896.4 L380.6,1895.2 L385.0,1894.1 L389.7,1893.1 L394.7,1892.1 L399.9,1891.3 L405.4,1890.6 L410.9,1890.0 L416.5,1889.5 L422.1,1889.2 L427.6,1889.0 L433.1,1888.9 L438.3,1889.0 L443.3,1889.2 L448.0,1889.6 L452.4,1890.1 L456.3,1890.7 L459.9,1891.4 L462.9,1892.3 L465.5,1893.3 L467.5,1894.3 L468.9,1895.5 L469.8,1896.7 L470.1,1897.9 Z" fill="#dd8b3c"/>
<linearGradient id="cg1" gradientUnits="userSpaceOnUse" x1="605.7" y1="0" x2="712.9" y2="0"><stop offset="0" stop-color="#dc5a1e"/><stop offset="0.08" stop-color="#dc5a1e"/><stop offset="0.42" stop-color="#a63e1e"/><stop offset="0.55" stop-color="#a63e1e"/><stop offset="0.85" stop-color="#f26a28"/><stop offset="0.95" stop-color="#f26a28"/><stop offset="1" stop-color="#e0641f"/></linearGradient><path d="M605.7,1937.5 L605.7,2099.9 L605.9,2100.8 L606.4,2101.7 L607.2,2102.6 L608.3,2103.5 L609.8,2104.3 L611.5,2105.0 L613.6,2105.7 L615.9,2106.4 L618.5,2106.9 L621.4,2107.4 L624.5,2107.9 L627.8,2108.2 L631.3,2108.5 L635.0,2108.7 L638.8,2108.8 L642.7,2108.9 L646.8,2108.9 L650.9,2108.8 L655.1,2108.6 L659.3,2108.3 L663.5,2108.0 L667.7,2107.5 L671.8,2107.1 L675.9,2106.5 L679.8,2105.9 L683.6,2105.2 L687.3,2104.5 L690.8,2103.7 L694.1,2102.8 L697.2,2102.0 L700.1,2101.1 L702.7,2100.1 L705.0,2099.1 L707.1,2098.1 L708.8,2097.1 L710.3,2096.1 L711.4,2095.1 L712.2,2094.1 L712.7,2093.1 L712.9,2092.1 L712.9,1929.7 Z" fill="url(#cg1)"/><path d="M712.9,1929.7 L712.6,1931.0 L711.7,1932.4 L710.3,1933.7 L708.3,1935.1 L705.7,1936.4 L702.7,1937.7 L699.1,1939.0 L695.2,1940.2 L690.8,1941.3 L686.1,1942.3 L681.1,1943.3 L675.9,1944.1 L670.4,1944.8 L664.9,1945.4 L659.3,1945.9 L653.7,1946.2 L648.2,1946.4 L642.7,1946.5 L637.5,1946.4 L632.5,1946.2 L627.8,1945.8 L623.4,1945.3 L619.5,1944.7 L615.9,1944.0 L612.9,1943.1 L610.3,1942.1 L608.3,1941.1 L606.9,1939.9 L606.0,1938.7 L605.7,1937.5 L606.0,1936.2 L606.9,1934.8 L608.3,1933.5 L610.3,1932.1 L612.9,1930.8 L615.9,1929.5 L619.5,1928.2 L623.4,1927.0 L627.8,1925.9 L632.5,1924.9 L637.5,1923.9 L642.7,1923.1 L648.2,1922.4 L653.7,1921.8 L659.3,1921.3 L664.9,1921.0 L670.4,1920.8 L675.9,1920.7 L681.1,1920.8 L686.1,1921.0 L690.8,1921.4 L695.2,1921.9 L699.1,1922.5 L702.7,1923.2 L705.7,1924.1 L708.3,1925.1 L710.3,1926.1 L711.7,1927.3 L712.6,1928.5 L712.9,1929.7 Z" fill="#e4692a"/>
<linearGradient id="cg2" gradientUnits="userSpaceOnUse" x1="847.4" y1="0" x2="954.6" y2="0"><stop offset="0" stop-color="#a2525e"/><stop offset="0.08" stop-color="#a2525e"/><stop offset="0.42" stop-color="#6c3943"/><stop offset="0.55" stop-color="#6c3943"/><stop offset="0.85" stop-color="#c46e7a"/><stop offset="0.95" stop-color="#c46e7a"/><stop offset="1" stop-color="#b0606c"/></linearGradient><path d="M847.4,1928.7 L847.4,2099.9 L847.6,2100.8 L848.1,2101.7 L848.9,2102.6 L850.0,2103.5 L851.5,2104.3 L853.2,2105.0 L855.3,2105.7 L857.6,2106.4 L860.2,2106.9 L863.1,2107.4 L866.2,2107.9 L869.5,2108.2 L873.0,2108.5 L876.7,2108.7 L880.5,2108.8 L884.4,2108.9 L888.5,2108.9 L892.6,2108.8 L896.8,2108.6 L901.0,2108.3 L905.2,2108.0 L909.4,2107.5 L913.5,2107.1 L917.6,2106.5 L921.5,2105.9 L925.3,2105.2 L929.0,2104.5 L932.5,2103.7 L935.8,2102.8 L938.9,2102.0 L941.8,2101.1 L944.4,2100.1 L946.7,2099.1 L948.8,2098.1 L950.5,2097.1 L952.0,2096.1 L953.1,2095.1 L953.9,2094.1 L954.4,2093.1 L954.6,2092.1 L954.6,1920.9 Z" fill="url(#cg2)"/><path d="M954.6,1920.9 L954.3,1922.2 L953.4,1923.6 L952.0,1924.9 L950.0,1926.3 L947.4,1927.6 L944.4,1928.9 L940.8,1930.2 L936.9,1931.4 L932.5,1932.5 L927.8,1933.5 L922.8,1934.5 L917.6,1935.3 L912.1,1936.0 L906.6,1936.6 L901.0,1937.1 L895.4,1937.4 L889.9,1937.6 L884.4,1937.7 L879.2,1937.6 L874.2,1937.4 L869.5,1937.0 L865.1,1936.5 L861.2,1935.9 L857.6,1935.2 L854.6,1934.3 L852.0,1933.3 L850.0,1932.3 L848.6,1931.1 L847.7,1929.9 L847.4,1928.7 L847.7,1927.4 L848.6,1926.0 L850.0,1924.7 L852.0,1923.3 L854.6,1922.0 L857.6,1920.7 L861.2,1919.4 L865.1,1918.2 L869.5,1917.1 L874.2,1916.1 L879.2,1915.1 L884.4,1914.3 L889.9,1913.6 L895.4,1913.0 L901.0,1912.5 L906.6,1912.2 L912.1,1912.0 L917.6,1911.9 L922.8,1912.0 L927.8,1912.2 L932.5,1912.6 L936.9,1913.1 L940.8,1913.7 L944.4,1914.4 L947.4,1915.3 L950.0,1916.3 L952.0,1917.3 L953.4,1918.5 L954.3,1919.7 L954.6,1920.9 Z" fill="#b36672"/>
<linearGradient id="cg3" gradientUnits="userSpaceOnUse" x1="1090.2" y1="0" x2="1197.4" y2="0"><stop offset="0" stop-color="#dcae30"/><stop offset="0.08" stop-color="#dcae30"/><stop offset="0.35" stop-color="#c8952a"/><stop offset="0.55" stop-color="#c8952a"/><stop offset="0.85" stop-color="#f4dc62"/><stop offset="0.95" stop-color="#f4dc62"/><stop offset="1" stop-color="#e8c94a"/></linearGradient><path d="M1090.2,1885.8 L1090.2,2099.9 L1090.4,2100.8 L1090.9,2101.7 L1091.7,2102.6 L1092.8,2103.5 L1094.3,2104.3 L1096.0,2105.0 L1098.1,2105.7 L1100.4,2106.4 L1103.0,2106.9 L1105.9,2107.4 L1109.0,2107.9 L1112.3,2108.2 L1115.8,2108.5 L1119.5,2108.7 L1123.3,2108.8 L1127.2,2108.9 L1131.3,2108.9 L1135.4,2108.8 L1139.6,2108.6 L1143.8,2108.3 L1148.0,2108.0 L1152.2,2107.5 L1156.3,2107.1 L1160.4,2106.5 L1164.3,2105.9 L1168.1,2105.2 L1171.8,2104.5 L1175.3,2103.7 L1178.6,2102.8 L1181.7,2102.0 L1184.6,2101.1 L1187.2,2100.1 L1189.5,2099.1 L1191.6,2098.1 L1193.3,2097.1 L1194.8,2096.1 L1195.9,2095.1 L1196.7,2094.1 L1197.2,2093.1 L1197.4,2092.1 L1197.4,1878.0 Z" fill="url(#cg3)"/><path d="M1197.4,1878.0 L1197.1,1879.3 L1196.2,1880.7 L1194.8,1882.0 L1192.8,1883.4 L1190.2,1884.7 L1187.2,1886.0 L1183.6,1887.3 L1179.7,1888.5 L1175.3,1889.6 L1170.6,1890.6 L1165.6,1891.6 L1160.4,1892.4 L1154.9,1893.1 L1149.4,1893.7 L1143.8,1894.2 L1138.2,1894.5 L1132.7,1894.7 L1127.2,1894.8 L1122.0,1894.7 L1117.0,1894.5 L1112.3,1894.1 L1107.9,1893.6 L1104.0,1893.0 L1100.4,1892.3 L1097.4,1891.4 L1094.8,1890.4 L1092.8,1889.4 L1091.4,1888.2 L1090.5,1887.0 L1090.2,1885.8 L1090.5,1884.5 L1091.4,1883.1 L1092.8,1881.8 L1094.8,1880.4 L1097.4,1879.1 L1100.4,1877.8 L1104.0,1876.5 L1107.9,1875.3 L1112.3,1874.2 L1117.0,1873.2 L1122.0,1872.2 L1127.2,1871.4 L1132.7,1870.7 L1138.2,1870.1 L1143.8,1869.6 L1149.4,1869.3 L1154.9,1869.1 L1160.4,1869.0 L1165.6,1869.1 L1170.6,1869.3 L1175.3,1869.7 L1179.7,1870.2 L1183.6,1870.8 L1187.2,1871.5 L1190.2,1872.4 L1192.8,1873.4 L1194.8,1874.4 L1196.2,1875.6 L1197.1,1876.8 L1197.4,1878.0 Z" fill="#efc84e"/>
<linearGradient id="cg4" gradientUnits="userSpaceOnUse" x1="1332.8" y1="0" x2="1440.0" y2="0"><stop offset="0" stop-color="#6aa830"/><stop offset="0.08" stop-color="#6aa830"/><stop offset="0.40" stop-color="#3f6f2e"/><stop offset="0.55" stop-color="#3f6f2e"/><stop offset="0.85" stop-color="#8fcc40"/><stop offset="0.95" stop-color="#8fcc40"/><stop offset="1" stop-color="#7cbc38"/></linearGradient><path d="M1332.8,1863.8 L1332.8,2099.9 L1333.0,2100.8 L1333.5,2101.7 L1334.3,2102.6 L1335.4,2103.5 L1336.9,2104.3 L1338.6,2105.0 L1340.7,2105.7 L1343.0,2106.4 L1345.6,2106.9 L1348.5,2107.4 L1351.6,2107.9 L1354.9,2108.2 L1358.4,2108.5 L1362.1,2108.7 L1365.9,2108.8 L1369.8,2108.9 L1373.9,2108.9 L1378.0,2108.8 L1382.2,2108.6 L1386.4,2108.3 L1390.6,2108.0 L1394.8,2107.5 L1398.9,2107.1 L1403.0,2106.5 L1406.9,2105.9 L1410.7,2105.2 L1414.4,2104.5 L1417.9,2103.7 L1421.2,2102.8 L1424.3,2102.0 L1427.2,2101.1 L1429.8,2100.1 L1432.1,2099.1 L1434.2,2098.1 L1435.9,2097.1 L1437.4,2096.1 L1438.5,2095.1 L1439.3,2094.1 L1439.8,2093.1 L1440.0,2092.1 L1440.0,1856.0 Z" fill="url(#cg4)"/><path d="M1440.0,1856.0 L1439.7,1857.3 L1438.8,1858.7 L1437.4,1860.0 L1435.4,1861.4 L1432.8,1862.7 L1429.8,1864.0 L1426.2,1865.3 L1422.3,1866.5 L1417.9,1867.6 L1413.2,1868.6 L1408.2,1869.6 L1403.0,1870.4 L1397.5,1871.1 L1392.0,1871.7 L1386.4,1872.2 L1380.8,1872.5 L1375.3,1872.7 L1369.8,1872.8 L1364.6,1872.7 L1359.6,1872.5 L1354.9,1872.1 L1350.5,1871.6 L1346.6,1871.0 L1343.0,1870.3 L1340.0,1869.4 L1337.4,1868.4 L1335.4,1867.4 L1334.0,1866.2 L1333.1,1865.0 L1332.8,1863.8 L1333.1,1862.5 L1334.0,1861.1 L1335.4,1859.8 L1337.4,1858.4 L1340.0,1857.1 L1343.0,1855.8 L1346.6,1854.5 L1350.5,1853.3 L1354.9,1852.2 L1359.6,1851.2 L1364.6,1850.2 L1369.8,1849.4 L1375.3,1848.7 L1380.8,1848.1 L1386.4,1847.6 L1392.0,1847.3 L1397.5,1847.1 L1403.0,1847.0 L1408.2,1847.1 L1413.2,1847.3 L1417.9,1847.7 L1422.3,1848.2 L1426.2,1848.8 L1429.8,1849.5 L1432.8,1850.4 L1435.4,1851.4 L1437.4,1852.4 L1438.8,1853.6 L1439.7,1854.8 L1440.0,1856.0 Z" fill="#80c040"/>
<linearGradient id="cg5" gradientUnits="userSpaceOnUse" x1="1575.9" y1="0" x2="1683.1" y2="0"><stop offset="0" stop-color="#55ac94"/><stop offset="0.08" stop-color="#55ac94"/><stop offset="0.35" stop-color="#3c8c74"/><stop offset="0.55" stop-color="#3c8c74"/><stop offset="0.85" stop-color="#a6dacb"/><stop offset="0.95" stop-color="#a6dacb"/><stop offset="1" stop-color="#80c4b0"/></linearGradient><path d="M1575.9,1806.6 L1575.9,2099.9 L1576.1,2100.8 L1576.6,2101.7 L1577.4,2102.6 L1578.5,2103.5 L1580.0,2104.3 L1581.7,2105.0 L1583.8,2105.7 L1586.1,2106.4 L1588.7,2106.9 L1591.6,2107.4 L1594.7,2107.9 L1598.0,2108.2 L1601.5,2108.5 L1605.2,2108.7 L1609.0,2108.8 L1612.9,2108.9 L1617.0,2108.9 L1621.1,2108.8 L1625.3,2108.6 L1629.5,2108.3 L1633.7,2108.0 L1637.9,2107.5 L1642.0,2107.1 L1646.1,2106.5 L1650.0,2105.9 L1653.8,2105.2 L1657.5,2104.5 L1661.0,2103.7 L1664.3,2102.8 L1667.4,2102.0 L1670.3,2101.1 L1672.9,2100.1 L1675.2,2099.1 L1677.3,2098.1 L1679.0,2097.1 L1680.5,2096.1 L1681.6,2095.1 L1682.4,2094.1 L1682.9,2093.1 L1683.1,2092.1 L1683.1,1798.8 Z" fill="url(#cg5)"/><path d="M1683.1,1798.8 L1682.8,1800.1 L1681.9,1801.5 L1680.5,1802.8 L1678.5,1804.2 L1675.9,1805.5 L1672.9,1806.8 L1669.3,1808.1 L1665.4,1809.3 L1661.0,1810.4 L1656.3,1811.4 L1651.3,1812.4 L1646.1,1813.2 L1640.6,1813.9 L1635.1,1814.5 L1629.5,1815.0 L1623.9,1815.3 L1618.4,1815.5 L1612.9,1815.6 L1607.7,1815.5 L1602.7,1815.3 L1598.0,1814.9 L1593.6,1814.4 L1589.7,1813.8 L1586.1,1813.1 L1583.1,1812.2 L1580.5,1811.2 L1578.5,1810.2 L1577.1,1809.0 L1576.2,1807.8 L1575.9,1806.6 L1576.2,1805.3 L1577.1,1803.9 L1578.5,1802.6 L1580.5,1801.2 L1583.1,1799.9 L1586.1,1798.6 L1589.7,1797.3 L1593.6,1796.1 L1598.0,1795.0 L1602.7,1794.0 L1607.7,1793.0 L1612.9,1792.2 L1618.4,1791.5 L1623.9,1790.9 L1629.5,1790.4 L1635.1,1790.1 L1640.6,1789.9 L1646.1,1789.8 L1651.3,1789.9 L1656.3,1790.1 L1661.0,1790.5 L1665.4,1791.0 L1669.3,1791.6 L1672.9,1792.3 L1675.9,1793.2 L1678.5,1794.2 L1680.5,1795.2 L1681.9,1796.4 L1682.8,1797.6 L1683.1,1798.8 Z" fill="#6fbea4"/>
<linearGradient id="cg6" gradientUnits="userSpaceOnUse" x1="1818.3" y1="0" x2="1925.5" y2="0"><stop offset="0" stop-color="#3a58b6"/><stop offset="0.08" stop-color="#3a58b6"/><stop offset="0.30" stop-color="#264ca0"/><stop offset="0.55" stop-color="#264ca0"/><stop offset="0.85" stop-color="#a2b4e2"/><stop offset="0.95" stop-color="#a2b4e2"/><stop offset="1" stop-color="#8aa0d8"/></linearGradient><path d="M1818.3,1664.5 L1818.3,2099.9 L1818.5,2100.8 L1819.0,2101.7 L1819.8,2102.6 L1820.9,2103.5 L1822.4,2104.3 L1824.1,2105.0 L1826.2,2105.7 L1828.5,2106.4 L1831.1,2106.9 L1834.0,2107.4 L1837.1,2107.9 L1840.4,2108.2 L1843.9,2108.5 L1847.6,2108.7 L1851.4,2108.8 L1855.3,2108.9 L1859.4,2108.9 L1863.5,2108.8 L1867.7,2108.6 L1871.9,2108.3 L1876.1,2108.0 L1880.3,2107.5 L1884.4,2107.1 L1888.5,2106.5 L1892.4,2105.9 L1896.2,2105.2 L1899.9,2104.5 L1903.4,2103.7 L1906.7,2102.8 L1909.8,2102.0 L1912.7,2101.1 L1915.3,2100.1 L1917.6,2099.1 L1919.7,2098.1 L1921.4,2097.1 L1922.9,2096.1 L1924.0,2095.1 L1924.8,2094.1 L1925.3,2093.1 L1925.5,2092.1 L1925.5,1656.7 Z" fill="url(#cg6)"/><path d="M1925.5,1656.7 L1925.2,1658.0 L1924.3,1659.4 L1922.9,1660.7 L1920.9,1662.1 L1918.3,1663.4 L1915.3,1664.7 L1911.7,1666.0 L1907.8,1667.2 L1903.4,1668.3 L1898.7,1669.3 L1893.7,1670.3 L1888.5,1671.1 L1883.0,1671.8 L1877.5,1672.4 L1871.9,1672.9 L1866.3,1673.2 L1860.8,1673.4 L1855.3,1673.5 L1850.1,1673.4 L1845.1,1673.2 L1840.4,1672.8 L1836.0,1672.3 L1832.1,1671.7 L1828.5,1671.0 L1825.5,1670.1 L1822.9,1669.1 L1820.9,1668.1 L1819.5,1666.9 L1818.6,1665.7 L1818.3,1664.5 L1818.6,1663.2 L1819.5,1661.8 L1820.9,1660.5 L1822.9,1659.1 L1825.5,1657.8 L1828.5,1656.5 L1832.1,1655.2 L1836.0,1654.0 L1840.4,1652.9 L1845.1,1651.9 L1850.1,1650.9 L1855.3,1650.1 L1860.8,1649.4 L1866.3,1648.8 L1871.9,1648.3 L1877.5,1648.0 L1883.0,1647.8 L1888.5,1647.7 L1893.7,1647.8 L1898.7,1648.0 L1903.4,1648.4 L1907.8,1648.9 L1911.7,1649.5 L1915.3,1650.2 L1918.3,1651.1 L1920.9,1652.1 L1922.9,1653.1 L1924.3,1654.3 L1925.2,1655.5 L1925.5,1656.7 Z" fill="#7088cc"/>
<linearGradient id="cg7" gradientUnits="userSpaceOnUse" x1="2060.2" y1="0" x2="2167.4" y2="0"><stop offset="0" stop-color="#2c3c9e"/><stop offset="0.08" stop-color="#2c3c9e"/><stop offset="0.65" stop-color="#10288c"/><stop offset="0.55" stop-color="#10288c"/><stop offset="0.85" stop-color="#5a68b8"/><stop offset="0.95" stop-color="#5a68b8"/><stop offset="1" stop-color="#5060b4"/></linearGradient><path d="M2060.2,1636.5 L2060.2,2099.9 L2060.4,2100.8 L2060.9,2101.7 L2061.7,2102.6 L2062.8,2103.5 L2064.3,2104.3 L2066.0,2105.0 L2068.1,2105.7 L2070.4,2106.4 L2073.0,2106.9 L2075.9,2107.4 L2079.0,2107.9 L2082.3,2108.2 L2085.8,2108.5 L2089.5,2108.7 L2093.3,2108.8 L2097.2,2108.9 L2101.3,2108.9 L2105.4,2108.8 L2109.6,2108.6 L2113.8,2108.3 L2118.0,2108.0 L2122.2,2107.5 L2126.3,2107.1 L2130.4,2106.5 L2134.3,2105.9 L2138.1,2105.2 L2141.8,2104.5 L2145.3,2103.7 L2148.6,2102.8 L2151.7,2102.0 L2154.6,2101.1 L2157.2,2100.1 L2159.5,2099.1 L2161.6,2098.1 L2163.3,2097.1 L2164.8,2096.1 L2165.9,2095.1 L2166.7,2094.1 L2167.2,2093.1 L2167.4,2092.1 L2167.4,1628.7 Z" fill="url(#cg7)"/><path d="M2167.4,1628.7 L2167.1,1630.0 L2166.2,1631.4 L2164.8,1632.7 L2162.8,1634.1 L2160.2,1635.4 L2157.2,1636.7 L2153.6,1638.0 L2149.7,1639.2 L2145.3,1640.3 L2140.6,1641.3 L2135.6,1642.3 L2130.4,1643.1 L2124.9,1643.8 L2119.4,1644.4 L2113.8,1644.9 L2108.2,1645.2 L2102.7,1645.4 L2097.2,1645.5 L2092.0,1645.4 L2087.0,1645.2 L2082.3,1644.8 L2077.9,1644.3 L2074.0,1643.7 L2070.4,1643.0 L2067.4,1642.1 L2064.8,1641.1 L2062.8,1640.1 L2061.4,1638.9 L2060.5,1637.7 L2060.2,1636.5 L2060.5,1635.2 L2061.4,1633.8 L2062.8,1632.5 L2064.8,1631.1 L2067.4,1629.8 L2070.4,1628.5 L2074.0,1627.2 L2077.9,1626.0 L2082.3,1624.9 L2087.0,1623.9 L2092.0,1622.9 L2097.2,1622.1 L2102.7,1621.4 L2108.2,1620.8 L2113.8,1620.3 L2119.4,1620.0 L2124.9,1619.8 L2130.4,1619.7 L2135.6,1619.8 L2140.6,1620.0 L2145.3,1620.4 L2149.7,1620.9 L2153.6,1621.5 L2157.2,1622.2 L2160.2,1623.1 L2162.8,1624.1 L2164.8,1625.1 L2166.2,1626.3 L2167.1,1627.5 L2167.4,1628.7 Z" fill="#3a4aa8"/>
<text transform="translate(518.0,2094.5) rotate(-90)" x="0" y="0" font-size="43.5" font-weight="bold" >L-Pt/MWCNT</text>
<text transform="translate(759.0,2094.5) rotate(-90)" x="0" y="0" font-size="43.5" font-weight="bold" >Pt/CNTs-ECR</text>
<text transform="translate(1004.0,2094.0) rotate(-90)" x="0" y="0" font-size="43.5" font-weight="bold" >Commercial Pt/C</text>
<text transform="translate(1244.0,2093.0) rotate(-90)" x="0" y="0" font-size="43.5" font-weight="bold" >Pt@CNT</text>
<text transform="translate(1487.5,2093.0) rotate(-90)" x="0" y="0" font-size="43.5" font-weight="bold" >Pt/MWCNT</text>
<text transform="translate(1731.3,2102.0) rotate(-90)" x="0" y="0" font-size="43.5" font-weight="bold" >SWCNTs-MXene@Pt</text>
<text transform="translate(1966.0,2093.7) rotate(-90)" x="0" y="0" font-size="43.5" font-weight="bold" >Pty/HCSs-4</text>
<text transform="translate(2214.0,2092.5) rotate(-90)" x="0" y="0" font-size="43.5" font-weight="bold" >MWCNT</text>
<line x1="322.2" y1="2094.2" x2="322.2" y2="2136.2" stroke="#f0a050" stroke-width="3.6" />
<line x1="308.7" y1="2094.2" x2="335.7" y2="2094.2" stroke="#f0a050" stroke-width="3.8" />
<line x1="308.7" y1="2136.2" x2="335.7" y2="2136.2" stroke="#f0a050" stroke-width="3.8" />
<line x1="558.2" y1="2039.3" x2="558.2" y2="2080.8" stroke="#b04a36" stroke-width="3.6" />
<line x1="545.2" y1="2039.3" x2="571.2" y2="2039.3" stroke="#b04a36" stroke-width="3.8" />
<line x1="545.2" y1="2080.8" x2="571.2" y2="2080.8" stroke="#b04a36" stroke-width="3.8" />
<line x1="808.0" y1="2061.3" x2="808.0" y2="2102.8" stroke="#8a4a55" stroke-width="3.6" />
<line x1="794.4" y1="2061.3" x2="821.6" y2="2061.3" stroke="#8a4a55" stroke-width="3.8" />
<line x1="794.4" y1="2102.8" x2="821.6" y2="2102.8" stroke="#8a4a55" stroke-width="3.8" />
<line x1="1049.4" y1="2077.7" x2="1049.4" y2="2117.4" stroke="#c89a30" stroke-width="3.6" />
<line x1="1035.9" y1="2077.7" x2="1062.9" y2="2077.7" stroke="#c89a30" stroke-width="3.8" />
<line x1="1035.9" y1="2117.4" x2="1062.9" y2="2117.4" stroke="#c89a30" stroke-width="3.8" />
<line x1="1289.2" y1="2047.9" x2="1289.2" y2="2090.5" stroke="#3a7a35" stroke-width="3.6" />
<line x1="1275.7" y1="2047.9" x2="1302.7" y2="2047.9" stroke="#3a7a35" stroke-width="3.8" />
<line x1="1275.7" y1="2090.5" x2="1302.7" y2="2090.5" stroke="#3a7a35" stroke-width="3.8" />
<line x1="1539.0" y1="1792.9" x2="1539.0" y2="1833.7" stroke="#2a9a80" stroke-width="3.6" />
<line x1="1525.7" y1="1792.9" x2="1552.3" y2="1792.9" stroke="#2a9a80" stroke-width="3.8" />
<line x1="1525.7" y1="1833.7" x2="1552.3" y2="1833.7" stroke="#2a9a80" stroke-width="3.8" />
<line x1="1773.4" y1="1537.3" x2="1773.4" y2="1579.9" stroke="#2a50b0" stroke-width="3.6" />
<line x1="1760.1" y1="1537.3" x2="1786.7" y2="1537.3" stroke="#2a50b0" stroke-width="3.8" />
<line x1="1760.1" y1="1579.9" x2="1786.7" y2="1579.9" stroke="#2a50b0" stroke-width="3.8" />
<line x1="2018.3" y1="1993.5" x2="2018.3" y2="2034.3" stroke="#2a50b0" stroke-width="3.6" />
<line x1="2004.1" y1="1993.5" x2="2032.5" y2="1993.5" stroke="#2a50b0" stroke-width="3.8" />
<line x1="2004.1" y1="2034.3" x2="2032.5" y2="2034.3" stroke="#2a50b0" stroke-width="3.8" />
<polyline points="322.2,2114.7 558.2,2063.9 808.0,2082.5 1049.4,2097.6 1289.2,2069.2 1539.0,1813.0 1773.4,1556.8 2018.3,2011.2" fill="none" stroke="#c42a26" stroke-width="3.8" stroke-linecap="round" stroke-linejoin="miter"/>
<line x1="2051.1" y1="2004.4" x2="2152.0" y2="1972.5" stroke="#c83222" stroke-width="6.6" stroke-linecap="round"/>
<path d="M2148.9,1959.4 L2249.3,1941.6 L2157.5,1986.5 L2152.9,1974 Z" fill="#c83222"/>
</svg></body></html>
